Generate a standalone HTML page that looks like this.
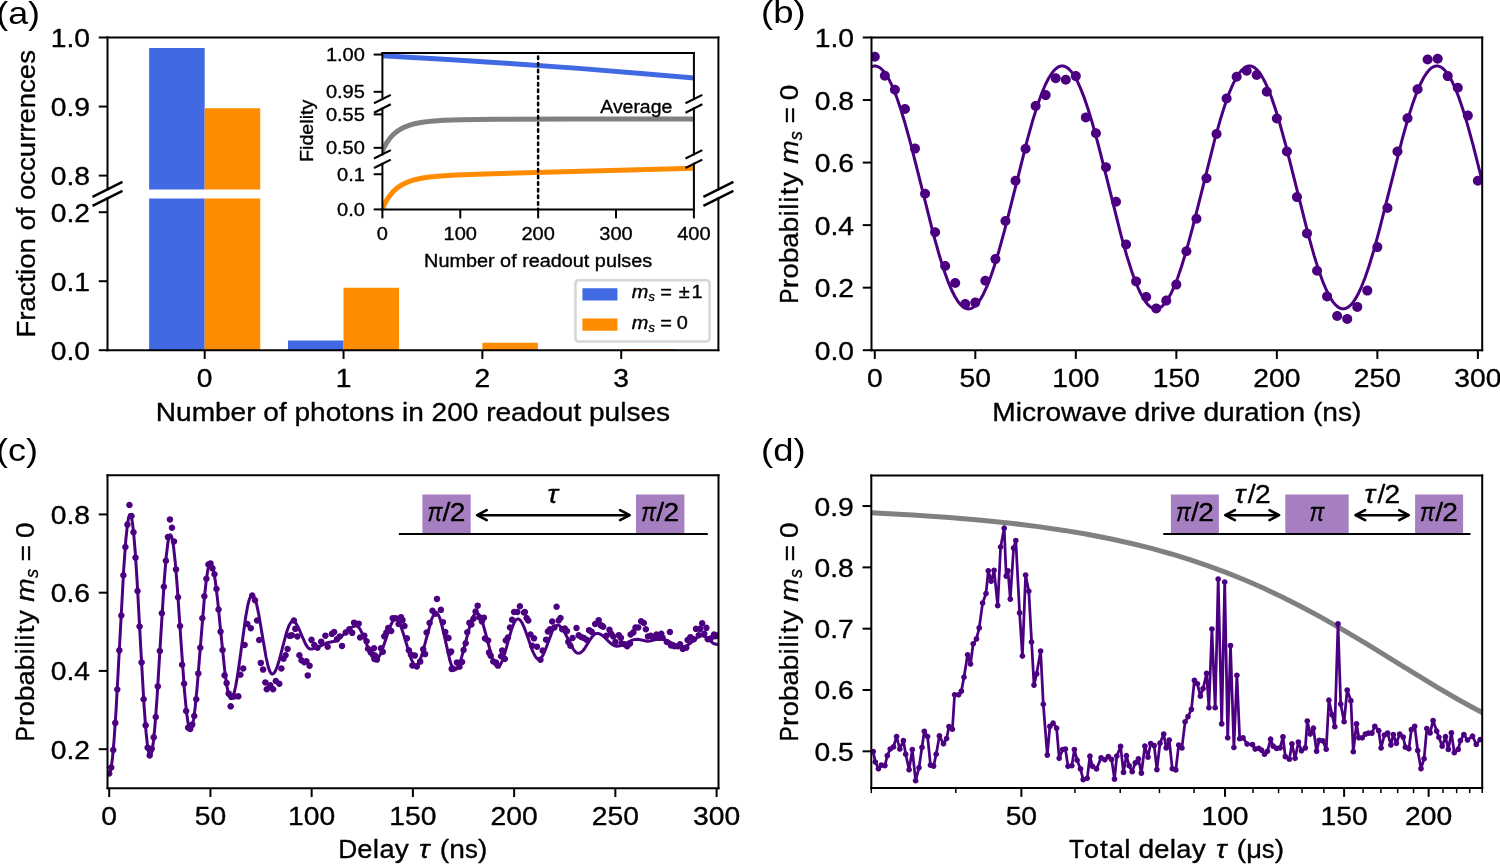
<!DOCTYPE html>
<html><head><meta charset="utf-8"><title>figure</title>
<style>html,body{margin:0;padding:0;background:#fff;width:1500px;height:864px;overflow:hidden}
svg text{stroke:#000;stroke-width:0.14px;stroke-linejoin:round}
svg{display:block;will-change:transform;font-family:"Liberation Sans",sans-serif}</style></head>
<body>
<svg width="1500" height="864" viewBox="0 0 600 345.6" version="1.1">
 
 <defs>
  <style type="text/css">*{stroke-linejoin: round; stroke-linecap: butt}</style>
 </defs>
 <g id="figure_1">
  <g id="patch_1">
   <path d="M 0 345.6 
L 600 345.6 
L 600 0 
L 0 0 
z
" style="fill: #ffffff"/>
  </g>
  <g id="axes_1">
   <g id="patch_2">
    <path d="M 43 75.76 
L 287.36 75.76 
L 287.36 15 
L 43 15 
z
" style="fill: #ffffff"/>
   </g>
   <g id="patch_3">
    <path d="M 59.660909 291.181818 
L 81.875455 291.181818 
L 81.875455 19.197964 
L 59.660909 19.197964 
z
" clip-path="url(#pc5ae53159c)" style="fill: #4169e1"/>
   </g>
   <g id="patch_4">
    <path d="M 115.197273 291.181818 
L 137.411818 291.181818 
L 137.411818 287.342891 
L 115.197273 287.342891 
z
" clip-path="url(#pc5ae53159c)" style="fill: #4169e1"/>
   </g>
   <g id="patch_5">
    <path d="M 170.733636 291.181818 
L 192.948182 291.181818 
L 192.948182 291.181818 
L 170.733636 291.181818 
z
" clip-path="url(#pc5ae53159c)" style="fill: #4169e1"/>
   </g>
   <g id="patch_6">
    <path d="M 226.27 291.181818 
L 248.484545 291.181818 
L 248.484545 291.181818 
L 226.27 291.181818 
z
" clip-path="url(#pc5ae53159c)" style="fill: #4169e1"/>
   </g>
   <g id="patch_7">
    <path d="M 81.875455 291.181818 
L 104.09 291.181818 
L 104.09 43.308636 
L 81.875455 43.308636 
z
" clip-path="url(#pc5ae53159c)" style="fill: #ff8c00"/>
   </g>
   <g id="patch_8">
    <path d="M 137.411818 291.181818 
L 159.626364 291.181818 
L 159.626364 266.159745 
L 137.411818 266.159745 
z
" clip-path="url(#pc5ae53159c)" style="fill: #ff8c00"/>
   </g>
   <g id="patch_9">
    <path d="M 192.948182 291.181818 
L 215.162727 291.181818 
L 215.162727 288.226673 
L 192.948182 288.226673 
z
" clip-path="url(#pc5ae53159c)" style="fill: #ff8c00"/>
   </g>
   <g id="patch_10">
    <path d="M 248.484545 291.181818 
L 270.699091 291.181818 
L 270.699091 290.739927 
L 248.484545 290.739927 
z
" clip-path="url(#pc5ae53159c)" style="fill: #ff8c00"/>
   </g>
   <g id="matplotlib.axis_1">
    <g id="xtick_1"/>
    <g id="xtick_2"/>
    <g id="xtick_3"/>
    <g id="xtick_4"/>
   </g>
   <g id="matplotlib.axis_2">
    <g id="ytick_1">
     <g id="line2d_1">
      <defs>
       <path id="m245f423433" d="M 0 0 
L -3.5 0 
" style="stroke: #000000; stroke-width: 0.8"/>
      </defs>
      <g>
       <use href="#m245f423433" x="43" y="70.236364" style="stroke: #000000; stroke-width: 0.8"/>
      </g>
     </g>
     <g id="text_1">
      <text style="font-size: 10.350px; font-family: 'Liberation Sans', sans-serif; text-anchor: end" x="36" y="74.035582" transform="rotate(-0 36 74.035582)" textLength="15.697" lengthAdjust="spacingAndGlyphs">0.8</text>
     </g>
    </g>
    <g id="ytick_2">
     <g id="line2d_2">
      <g>
       <use href="#m245f423433" x="43" y="42.618182" style="stroke: #000000; stroke-width: 0.8"/>
      </g>
     </g>
     <g id="text_2">
      <text style="font-size: 10.350px; font-family: 'Liberation Sans', sans-serif; text-anchor: end" x="36" y="46.417401" transform="rotate(-0 36 46.417401)" textLength="15.697" lengthAdjust="spacingAndGlyphs">0.9</text>
     </g>
    </g>
    <g id="ytick_3">
     <g id="line2d_3">
      <g>
       <use href="#m245f423433" x="43" y="15" style="stroke: #000000; stroke-width: 0.8"/>
      </g>
     </g>
     <g id="text_3">
      <text style="font-size: 10.350px; font-family: 'Liberation Sans', sans-serif; text-anchor: end" x="36" y="18.799219" transform="rotate(-0 36 18.799219)" textLength="15.697" lengthAdjust="spacingAndGlyphs">1.0</text>
     </g>
    </g>
   </g>
   <g id="patch_11">
    <path d="M 43 75.76 
L 43 15 
" style="fill: none; stroke: #000000; stroke-width: 0.8; stroke-linejoin: miter; stroke-linecap: square"/>
   </g>
   <g id="patch_12">
    <path d="M 287.36 75.76 
L 287.36 15 
" style="fill: none; stroke: #000000; stroke-width: 0.8; stroke-linejoin: miter; stroke-linecap: square"/>
   </g>
   <g id="patch_13">
    <path d="M 43 15 
L 287.36 15 
" style="fill: none; stroke: #000000; stroke-width: 0.8; stroke-linejoin: miter; stroke-linecap: square"/>
   </g>
  </g>
  <g id="axes_2">
   <g id="patch_14">
    <path d="M 43 140.08 
L 287.36 140.08 
L 287.36 79.36 
L 43 79.36 
z
" style="fill: #ffffff"/>
   </g>
   <g id="patch_15">
    <path d="M 59.660909 140.08 
L 81.875455 140.08 
L 81.875455 -131.7248 
L 59.660909 -131.7248 
z
" clip-path="url(#ped89a6a85b)" style="fill: #4169e1"/>
   </g>
   <g id="patch_16">
    <path d="M 115.197273 140.08 
L 137.411818 140.08 
L 137.411818 136.2436 
L 115.197273 136.2436 
z
" clip-path="url(#ped89a6a85b)" style="fill: #4169e1"/>
   </g>
   <g id="patch_17">
    <path d="M 170.733636 140.08 
L 192.948182 140.08 
L 192.948182 140.08 
L 170.733636 140.08 
z
" clip-path="url(#ped89a6a85b)" style="fill: #4169e1"/>
   </g>
   <g id="patch_18">
    <path d="M 226.27 140.08 
L 248.484545 140.08 
L 248.484545 140.08 
L 226.27 140.08 
z
" clip-path="url(#ped89a6a85b)" style="fill: #4169e1"/>
   </g>
   <g id="patch_19">
    <path d="M 81.875455 140.08 
L 104.09 140.08 
L 104.09 -107.63 
L 81.875455 -107.63 
z
" clip-path="url(#ped89a6a85b)" style="fill: #ff8c00"/>
   </g>
   <g id="patch_20">
    <path d="M 137.411818 140.08 
L 159.626364 140.08 
L 159.626364 115.0744 
L 137.411818 115.0744 
z
" clip-path="url(#ped89a6a85b)" style="fill: #ff8c00"/>
   </g>
   <g id="patch_21">
    <path d="M 192.948182 140.08 
L 215.162727 140.08 
L 215.162727 137.1268 
L 192.948182 137.1268 
z
" clip-path="url(#ped89a6a85b)" style="fill: #ff8c00"/>
   </g>
   <g id="patch_22">
    <path d="M 248.484545 140.08 
L 270.699091 140.08 
L 270.699091 139.6384 
L 248.484545 139.6384 
z
" clip-path="url(#ped89a6a85b)" style="fill: #ff8c00"/>
   </g>
   <g id="matplotlib.axis_3">
    <g id="xtick_5">
     <g id="line2d_4">
      <defs>
       <path id="m3040d6da13" d="M 0 0 
L 0 3.5 
" style="stroke: #000000; stroke-width: 0.8"/>
      </defs>
      <g>
       <use href="#m3040d6da13" x="81.875455" y="140.08" style="stroke: #000000; stroke-width: 0.8"/>
      </g>
     </g>
     <g id="text_4">
      <text style="font-size: 10.350px; font-family: 'Liberation Sans', sans-serif; text-anchor: middle" x="81.875455" y="154.678437" transform="rotate(-0 81.875455 154.678437)" textLength="6.280" lengthAdjust="spacingAndGlyphs">0</text>
     </g>
    </g>
    <g id="xtick_6">
     <g id="line2d_5">
      <g>
       <use href="#m3040d6da13" x="137.411818" y="140.08" style="stroke: #000000; stroke-width: 0.8"/>
      </g>
     </g>
     <g id="text_5">
      <text style="font-size: 10.350px; font-family: 'Liberation Sans', sans-serif; text-anchor: middle" x="137.411818" y="154.678437" transform="rotate(-0 137.411818 154.678437)" textLength="6.280" lengthAdjust="spacingAndGlyphs">1</text>
     </g>
    </g>
    <g id="xtick_7">
     <g id="line2d_6">
      <g>
       <use href="#m3040d6da13" x="192.948182" y="140.08" style="stroke: #000000; stroke-width: 0.8"/>
      </g>
     </g>
     <g id="text_6">
      <text style="font-size: 10.350px; font-family: 'Liberation Sans', sans-serif; text-anchor: middle" x="192.948182" y="154.678437" transform="rotate(-0 192.948182 154.678437)" textLength="6.280" lengthAdjust="spacingAndGlyphs">2</text>
     </g>
    </g>
    <g id="xtick_8">
     <g id="line2d_7">
      <g>
       <use href="#m3040d6da13" x="248.484545" y="140.08" style="stroke: #000000; stroke-width: 0.8"/>
      </g>
     </g>
     <g id="text_7">
      <text style="font-size: 10.350px; font-family: 'Liberation Sans', sans-serif; text-anchor: middle" x="248.484545" y="154.678437" transform="rotate(-0 248.484545 154.678437)" textLength="6.280" lengthAdjust="spacingAndGlyphs">3</text>
     </g>
    </g>
    <g id="text_8">
     <text style="font-size: 10.350px; font-family: 'Liberation Sans', sans-serif; text-anchor: middle" x="165.18" y="168.356562" transform="rotate(-0 165.18 168.356562)" textLength="205.669" lengthAdjust="spacingAndGlyphs">Number of photons in 200 readout pulses</text>
    </g>
   </g>
   <g id="matplotlib.axis_4">
    <g id="ytick_4">
     <g id="line2d_8">
      <g>
       <use href="#m245f423433" x="43" y="140.08" style="stroke: #000000; stroke-width: 0.8"/>
      </g>
     </g>
     <g id="text_9">
      <text style="font-size: 10.350px; font-family: 'Liberation Sans', sans-serif; text-anchor: end" x="36" y="143.879219" transform="rotate(-0 36 143.879219)" textLength="15.697" lengthAdjust="spacingAndGlyphs">0.0</text>
     </g>
    </g>
    <g id="ytick_5">
     <g id="line2d_9">
      <g>
       <use href="#m245f423433" x="43" y="112.48" style="stroke: #000000; stroke-width: 0.8"/>
      </g>
     </g>
     <g id="text_10">
      <text style="font-size: 10.350px; font-family: 'Liberation Sans', sans-serif; text-anchor: end" x="36" y="116.279219" transform="rotate(-0 36 116.279219)" textLength="15.697" lengthAdjust="spacingAndGlyphs">0.1</text>
     </g>
    </g>
    <g id="ytick_6">
     <g id="line2d_10">
      <g>
       <use href="#m245f423433" x="43" y="84.88" style="stroke: #000000; stroke-width: 0.8"/>
      </g>
     </g>
     <g id="text_11">
      <text style="font-size: 10.350px; font-family: 'Liberation Sans', sans-serif; text-anchor: end" x="36" y="88.679219" transform="rotate(-0 36 88.679219)" textLength="15.697" lengthAdjust="spacingAndGlyphs">0.2</text>
     </g>
    </g>
   </g>
   <g id="patch_23">
    <path d="M 43 140.08 
L 43 79.36 
" style="fill: none; stroke: #000000; stroke-width: 0.8; stroke-linejoin: miter; stroke-linecap: square"/>
   </g>
   <g id="patch_24">
    <path d="M 287.36 140.08 
L 287.36 79.36 
" style="fill: none; stroke: #000000; stroke-width: 0.8; stroke-linejoin: miter; stroke-linecap: square"/>
   </g>
   <g id="patch_25">
    <path d="M 43 140.08 
L 287.36 140.08 
" style="fill: none; stroke: #000000; stroke-width: 0.8; stroke-linejoin: miter; stroke-linecap: square"/>
   </g>
   <g id="legend_1">
    <g id="patch_26">
     <path d="M 231.57 136.58 
L 282.46 136.58 
Q 283.86 136.58 283.86 135.18 
L 283.86 113.489625 
Q 283.86 112.089625 282.46 112.089625 
L 231.57 112.089625 
Q 230.17 112.089625 230.17 113.489625 
L 230.17 135.18 
Q 230.17 136.58 231.57 136.58 
z
" style="fill: #ffffff; opacity: 0.8; stroke: #cccccc; stroke-linejoin: miter"/>
    </g>
    <g id="patch_27">
     <path d="M 232.97 120.208531 
L 246.97 120.208531 
L 246.97 115.308531 
L 232.97 115.308531 
z
" style="fill: #4169e1"/>
    </g>
    <g id="text_12">
     
     <g transform="translate(252.57 120.208531)">
      <text x="0.0878" y="-0.890625" style="font-style: italic; font-size: 7.245px; font-family: 'Liberation Sans', sans-serif" textLength="6.643" lengthAdjust="spacingAndGlyphs">m</text>
<text x="6.8188" y="0.257812" style="font-style: italic; font-size: 5.072px; font-family: 'Liberation Sans', sans-serif" textLength="2.540" lengthAdjust="spacingAndGlyphs">s</text>
<text x="11.5309" y="-0.890625" style="font-size: 7.245px; font-family: 'Liberation Sans', sans-serif" textLength="4.657" lengthAdjust="spacingAndGlyphs">=</text>
<text x="18.9001" y="-0.890625" style="font-size: 7.245px; font-family: 'Liberation Sans', sans-serif" textLength="4.377" lengthAdjust="spacingAndGlyphs">±</text>
<text x="24.0303" y="-0.890625" style="font-size: 7.245px; font-family: 'Liberation Sans', sans-serif" textLength="4.435" lengthAdjust="spacingAndGlyphs">1</text>
     </g>
    </g>
    <g id="patch_28">
     <path d="M 232.97 132.324219 
L 246.97 132.324219 
L 246.97 127.424219 
L 232.97 127.424219 
z
" style="fill: #ff8c00"/>
    </g>
    <g id="text_13">
     
     <g transform="translate(252.57 132.324219)">
      <text x="0.0878" y="-0.796875" style="font-style: italic; font-size: 7.245px; font-family: 'Liberation Sans', sans-serif" textLength="6.643" lengthAdjust="spacingAndGlyphs">m</text>
<text x="6.8188" y="0.351562" style="font-style: italic; font-size: 5.072px; font-family: 'Liberation Sans', sans-serif" textLength="2.540" lengthAdjust="spacingAndGlyphs">s</text>
<text x="11.5309" y="-0.796875" style="font-size: 7.245px; font-family: 'Liberation Sans', sans-serif" textLength="4.657" lengthAdjust="spacingAndGlyphs">=</text>
<text x="18.1651" y="-0.796875" style="font-size: 7.245px; font-family: 'Liberation Sans', sans-serif" textLength="4.435" lengthAdjust="spacingAndGlyphs">0</text>
     </g>
    </g>
   </g>
  </g>
  <g id="axes_3">
   <g id="patch_29">
    <path d="M 152.96 39.64 
L 277.56 39.64 
L 277.56 21.2 
L 152.96 21.2 
z
" style="fill: #ffffff"/>
   </g>
   <g id="matplotlib.axis_5">
    <g id="xtick_9"/>
    <g id="xtick_10"/>
    <g id="xtick_11"/>
    <g id="xtick_12"/>
    <g id="xtick_13"/>
   </g>
   <g id="matplotlib.axis_6">
    <g id="ytick_7">
     <g id="line2d_11">
      <g>
       <use href="#m245f423433" x="152.96" y="36.720582" style="stroke: #000000; stroke-width: 0.8"/>
      </g>
     </g>
     <g id="text_14">
      <text style="font-size: 7.245px; font-family: 'Liberation Sans', sans-serif; text-anchor: end" x="145.96" y="39.380035" transform="rotate(-0 145.96 39.380035)" textLength="15.586" lengthAdjust="spacingAndGlyphs">0.95</text>
     </g>
    </g>
    <g id="ytick_8">
     <g id="line2d_12">
      <g>
       <use href="#m245f423433" x="152.96" y="21.82559" style="stroke: #000000; stroke-width: 0.8"/>
      </g>
     </g>
     <g id="text_15">
      <text style="font-size: 7.245px; font-family: 'Liberation Sans', sans-serif; text-anchor: end" x="145.96" y="24.485043" transform="rotate(-0 145.96 24.485043)" textLength="15.586" lengthAdjust="spacingAndGlyphs">1.00</text>
     </g>
    </g>
   </g>
   <g id="line2d_13">
    <path d="M 152.96 22.332019 
L 179.126 23.782186 
L 205.292 25.455163 
L 231.458 27.35095 
L 257.624 29.469547 
L 277.56 31.233267 
L 277.56 31.233267 
" clip-path="url(#p95d39f3d8a)" style="fill: none; stroke: #4169e1; stroke-width: 2; stroke-linecap: square"/>
   </g>
   <g id="patch_30">
    <path d="M 152.96 39.64 
L 152.96 21.2 
" style="fill: none; stroke: #000000; stroke-width: 0.8; stroke-linejoin: miter; stroke-linecap: square"/>
   </g>
   <g id="patch_31">
    <path d="M 277.56 39.64 
L 277.56 21.2 
" style="fill: none; stroke: #000000; stroke-width: 0.8; stroke-linejoin: miter; stroke-linecap: square"/>
   </g>
   <g id="patch_32">
    <path d="M 152.96 21.2 
L 277.56 21.2 
" style="fill: none; stroke: #000000; stroke-width: 0.8; stroke-linejoin: miter; stroke-linecap: square"/>
   </g>
  </g>
  <g id="axes_4">
   <g id="patch_33">
    <path d="M 152.96 61.72 
L 277.56 61.72 
L 277.56 43.4 
L 152.96 43.4 
z
" style="fill: #ffffff"/>
   </g>
   <g id="matplotlib.axis_7">
    <g id="xtick_14"/>
    <g id="xtick_15"/>
    <g id="xtick_16"/>
    <g id="xtick_17"/>
    <g id="xtick_18"/>
   </g>
   <g id="matplotlib.axis_8">
    <g id="ytick_9">
     <g id="line2d_14">
      <g>
       <use href="#m245f423433" x="152.96" y="59.125781" style="stroke: #000000; stroke-width: 0.8"/>
      </g>
     </g>
     <g id="text_16">
      <text style="font-size: 7.245px; font-family: 'Liberation Sans', sans-serif; text-anchor: end" x="145.96" y="61.785234" transform="rotate(-0 145.96 61.785234)" textLength="15.586" lengthAdjust="spacingAndGlyphs">0.50</text>
     </g>
    </g>
    <g id="ytick_10">
     <g id="line2d_15">
      <g>
       <use href="#m245f423433" x="152.96" y="45.753518" style="stroke: #000000; stroke-width: 0.8"/>
      </g>
     </g>
     <g id="text_17">
      <text style="font-size: 7.245px; font-family: 'Liberation Sans', sans-serif; text-anchor: end" x="145.96" y="48.412971" transform="rotate(-0 145.96 48.412971)" textLength="15.586" lengthAdjust="spacingAndGlyphs">0.55</text>
     </g>
    </g>
   </g>
   <g id="line2d_16">
    <path d="M 152.96 60.583358 
L 153.583 59.080267 
L 154.67325 57.096742 
L 155.91925 55.345604 
L 157.16525 53.970034 
L 158.567 52.750586 
L 160.1245 51.699338 
L 161.83775 50.816541 
L 163.8625 50.041819 
L 166.19875 49.403101 
L 169.00225 48.879887 
L 172.5845 48.454803 
L 177.41275 48.126745 
L 184.57725 47.885627 
L 197.66025 47.703739 
L 226.94125 47.55763 
L 265.723 47.577362 
L 277.56 47.62724 
L 277.56 47.62724 
" clip-path="url(#p97b28c5c1a)" style="fill: none; stroke: #808080; stroke-width: 2; stroke-linecap: square"/>
   </g>
   <g id="patch_34">
    <path d="M 152.96 61.72 
L 152.96 43.4 
" style="fill: none; stroke: #000000; stroke-width: 0.8; stroke-linejoin: miter; stroke-linecap: square"/>
   </g>
   <g id="patch_35">
    <path d="M 277.56 61.72 
L 277.56 43.4 
" style="fill: none; stroke: #000000; stroke-width: 0.8; stroke-linejoin: miter; stroke-linecap: square"/>
   </g>
  </g>
  <g id="axes_5">
   <g id="patch_36">
    <path d="M 152.96 83.84 
L 277.56 83.84 
L 277.56 65.52 
L 152.96 65.52 
z
" style="fill: #ffffff"/>
   </g>
   <g id="matplotlib.axis_9">
    <g id="xtick_19">
     <g id="line2d_17">
      <g>
       <use href="#m3040d6da13" x="152.96" y="83.84" style="stroke: #000000; stroke-width: 0.8"/>
      </g>
     </g>
     <g id="text_18">
      <text style="font-size: 7.245px; font-family: 'Liberation Sans', sans-serif; text-anchor: middle" x="152.96" y="96.158906" transform="rotate(-0 152.96 96.158906)" textLength="4.454" lengthAdjust="spacingAndGlyphs">0</text>
     </g>
    </g>
    <g id="xtick_20">
     <g id="line2d_18">
      <g>
       <use href="#m3040d6da13" x="184.11" y="83.84" style="stroke: #000000; stroke-width: 0.8"/>
      </g>
     </g>
     <g id="text_19">
      <text style="font-size: 7.245px; font-family: 'Liberation Sans', sans-serif; text-anchor: middle" x="184.11" y="96.158906" transform="rotate(-0 184.11 96.158906)" textLength="13.361" lengthAdjust="spacingAndGlyphs">100</text>
     </g>
    </g>
    <g id="xtick_21">
     <g id="line2d_19">
      <g>
       <use href="#m3040d6da13" x="215.26" y="83.84" style="stroke: #000000; stroke-width: 0.8"/>
      </g>
     </g>
     <g id="text_20">
      <text style="font-size: 7.245px; font-family: 'Liberation Sans', sans-serif; text-anchor: middle" x="215.26" y="96.158906" transform="rotate(-0 215.26 96.158906)" textLength="13.361" lengthAdjust="spacingAndGlyphs">200</text>
     </g>
    </g>
    <g id="xtick_22">
     <g id="line2d_20">
      <g>
       <use href="#m3040d6da13" x="246.41" y="83.84" style="stroke: #000000; stroke-width: 0.8"/>
      </g>
     </g>
     <g id="text_21">
      <text style="font-size: 7.245px; font-family: 'Liberation Sans', sans-serif; text-anchor: middle" x="246.41" y="96.158906" transform="rotate(-0 246.41 96.158906)" textLength="13.361" lengthAdjust="spacingAndGlyphs">300</text>
     </g>
    </g>
    <g id="xtick_23">
     <g id="line2d_21">
      <g>
       <use href="#m3040d6da13" x="277.56" y="83.84" style="stroke: #000000; stroke-width: 0.8"/>
      </g>
     </g>
     <g id="text_22">
      <text style="font-size: 7.245px; font-family: 'Liberation Sans', sans-serif; text-anchor: middle" x="277.56" y="96.158906" transform="rotate(-0 277.56 96.158906)" textLength="13.361" lengthAdjust="spacingAndGlyphs">400</text>
     </g>
    </g>
    <g id="text_23">
     <text style="font-size: 7.245px; font-family: 'Liberation Sans', sans-serif; text-anchor: middle" x="215.26" y="106.933594" transform="rotate(-0 215.26 106.933594)" textLength="91.224" lengthAdjust="spacingAndGlyphs">Number of readout pulses</text>
    </g>
   </g>
   <g id="matplotlib.axis_10">
    <g id="ytick_11">
     <g id="line2d_22">
      <g>
       <use href="#m245f423433" x="152.96" y="83.769593" style="stroke: #000000; stroke-width: 0.8"/>
      </g>
     </g>
     <g id="text_24">
      <text style="font-size: 7.245px; font-family: 'Liberation Sans', sans-serif; text-anchor: end" x="145.96" y="86.429046" transform="rotate(-0 145.96 86.429046)" textLength="11.132" lengthAdjust="spacingAndGlyphs">0.0</text>
     </g>
    </g>
    <g id="ytick_12">
     <g id="line2d_23">
      <g>
       <use href="#m245f423433" x="152.96" y="69.688117" style="stroke: #000000; stroke-width: 0.8"/>
      </g>
     </g>
     <g id="text_25">
      <text style="font-size: 7.245px; font-family: 'Liberation Sans', sans-serif; text-anchor: end" x="145.96" y="72.34757" transform="rotate(-0 145.96 72.34757)" textLength="11.132" lengthAdjust="spacingAndGlyphs">0.1</text>
     </g>
    </g>
   </g>
   <g id="line2d_24">
    <path d="M 152.96 83.769593 
L 153.583 82.178558 
L 154.67325 80.075298 
L 155.91925 78.214447 
L 157.16525 76.748845 
L 158.567 75.445224 
L 160.1245 74.316203 
L 161.83775 73.361935 
L 163.70675 72.572701 
L 165.88725 71.89 
L 168.535 71.298785 
L 171.80575 70.80189 
L 176.16675 70.375496 
L 182.5525 69.994931 
L 193.7665 69.582213 
L 228.966 68.604163 
L 277.56 67.29314 
L 277.56 67.29314 
" clip-path="url(#pf60e66ae4b)" style="fill: none; stroke: #ff8c00; stroke-width: 2; stroke-linecap: square"/>
   </g>
   <g id="patch_37">
    <path d="M 152.96 83.84 
L 152.96 65.52 
" style="fill: none; stroke: #000000; stroke-width: 0.8; stroke-linejoin: miter; stroke-linecap: square"/>
   </g>
   <g id="patch_38">
    <path d="M 277.56 83.84 
L 277.56 65.52 
" style="fill: none; stroke: #000000; stroke-width: 0.8; stroke-linejoin: miter; stroke-linecap: square"/>
   </g>
   <g id="patch_39">
    <path d="M 152.96 83.84 
L 277.56 83.84 
" style="fill: none; stroke: #000000; stroke-width: 0.8; stroke-linejoin: miter; stroke-linecap: square"/>
   </g>
  </g>
  <g id="axes_6">
   <g id="patch_40">
    <path d="M 348.6 140.08 
L 592.88 140.08 
L 592.88 15 
L 348.6 15 
z
" style="fill: #ffffff"/>
   </g>
   <g id="matplotlib.axis_11">
    <g id="xtick_24">
     <g id="line2d_25">
      <g>
       <use href="#m3040d6da13" x="349.918737" y="140.08" style="stroke: #000000; stroke-width: 0.8"/>
      </g>
     </g>
     <g id="text_26">
      <text style="font-size: 10.350px; font-family: 'Liberation Sans', sans-serif; text-anchor: middle" x="349.918737" y="154.678437" transform="rotate(-0 349.918737 154.678437)" textLength="6.280" lengthAdjust="spacingAndGlyphs">0</text>
     </g>
    </g>
    <g id="xtick_25">
     <g id="line2d_26">
      <g>
       <use href="#m3040d6da13" x="390.124142" y="140.08" style="stroke: #000000; stroke-width: 0.8"/>
      </g>
     </g>
     <g id="text_27">
      <text style="font-size: 10.350px; font-family: 'Liberation Sans', sans-serif; text-anchor: middle" x="390.124142" y="154.678437" transform="rotate(-0 390.124142 154.678437)" textLength="12.559" lengthAdjust="spacingAndGlyphs">50</text>
     </g>
    </g>
    <g id="xtick_26">
     <g id="line2d_27">
      <g>
       <use href="#m3040d6da13" x="430.329547" y="140.08" style="stroke: #000000; stroke-width: 0.8"/>
      </g>
     </g>
     <g id="text_28">
      <text style="font-size: 10.350px; font-family: 'Liberation Sans', sans-serif; text-anchor: middle" x="430.329547" y="154.678437" transform="rotate(-0 430.329547 154.678437)" textLength="18.839" lengthAdjust="spacingAndGlyphs">100</text>
     </g>
    </g>
    <g id="xtick_27">
     <g id="line2d_28">
      <g>
       <use href="#m3040d6da13" x="470.534952" y="140.08" style="stroke: #000000; stroke-width: 0.8"/>
      </g>
     </g>
     <g id="text_29">
      <text style="font-size: 10.350px; font-family: 'Liberation Sans', sans-serif; text-anchor: middle" x="470.534952" y="154.678437" transform="rotate(-0 470.534952 154.678437)" textLength="18.839" lengthAdjust="spacingAndGlyphs">150</text>
     </g>
    </g>
    <g id="xtick_28">
     <g id="line2d_29">
      <g>
       <use href="#m3040d6da13" x="510.740357" y="140.08" style="stroke: #000000; stroke-width: 0.8"/>
      </g>
     </g>
     <g id="text_30">
      <text style="font-size: 10.350px; font-family: 'Liberation Sans', sans-serif; text-anchor: middle" x="510.740357" y="154.678437" transform="rotate(-0 510.740357 154.678437)" textLength="18.839" lengthAdjust="spacingAndGlyphs">200</text>
     </g>
    </g>
    <g id="xtick_29">
     <g id="line2d_30">
      <g>
       <use href="#m3040d6da13" x="550.945763" y="140.08" style="stroke: #000000; stroke-width: 0.8"/>
      </g>
     </g>
     <g id="text_31">
      <text style="font-size: 10.350px; font-family: 'Liberation Sans', sans-serif; text-anchor: middle" x="550.945763" y="154.678437" transform="rotate(-0 550.945763 154.678437)" textLength="18.839" lengthAdjust="spacingAndGlyphs">250</text>
     </g>
    </g>
    <g id="xtick_30">
     <g id="line2d_31">
      <g>
       <use href="#m3040d6da13" x="591.151168" y="140.08" style="stroke: #000000; stroke-width: 0.8"/>
      </g>
     </g>
     <g id="text_32">
      <text style="font-size: 10.350px; font-family: 'Liberation Sans', sans-serif; text-anchor: middle" x="591.151168" y="154.678437" transform="rotate(-0 591.151168 154.678437)" textLength="18.839" lengthAdjust="spacingAndGlyphs">300</text>
     </g>
    </g>
    <g id="text_33">
     <text style="font-size: 10.350px; font-family: 'Liberation Sans', sans-serif; text-anchor: middle" x="470.74" y="168.356562" transform="rotate(-0 470.74 168.356562)" textLength="147.591" lengthAdjust="spacingAndGlyphs">Microwave drive duration (ns)</text>
    </g>
   </g>
   <g id="matplotlib.axis_12">
    <g id="ytick_13">
     <g id="line2d_32">
      <g>
       <use href="#m245f423433" x="348.6" y="140.08" style="stroke: #000000; stroke-width: 0.8"/>
      </g>
     </g>
     <g id="text_34">
      <text style="font-size: 10.350px; font-family: 'Liberation Sans', sans-serif; text-anchor: end" x="341.6" y="143.879219" transform="rotate(-0 341.6 143.879219)" textLength="15.697" lengthAdjust="spacingAndGlyphs">0.0</text>
     </g>
    </g>
    <g id="ytick_14">
     <g id="line2d_33">
      <g>
       <use href="#m245f423433" x="348.6" y="115.064" style="stroke: #000000; stroke-width: 0.8"/>
      </g>
     </g>
     <g id="text_35">
      <text style="font-size: 10.350px; font-family: 'Liberation Sans', sans-serif; text-anchor: end" x="341.6" y="118.863219" transform="rotate(-0 341.6 118.863219)" textLength="15.697" lengthAdjust="spacingAndGlyphs">0.2</text>
     </g>
    </g>
    <g id="ytick_15">
     <g id="line2d_34">
      <g>
       <use href="#m245f423433" x="348.6" y="90.048" style="stroke: #000000; stroke-width: 0.8"/>
      </g>
     </g>
     <g id="text_36">
      <text style="font-size: 10.350px; font-family: 'Liberation Sans', sans-serif; text-anchor: end" x="341.6" y="93.847219" transform="rotate(-0 341.6 93.847219)" textLength="15.697" lengthAdjust="spacingAndGlyphs">0.4</text>
     </g>
    </g>
    <g id="ytick_16">
     <g id="line2d_35">
      <g>
       <use href="#m245f423433" x="348.6" y="65.032" style="stroke: #000000; stroke-width: 0.8"/>
      </g>
     </g>
     <g id="text_37">
      <text style="font-size: 10.350px; font-family: 'Liberation Sans', sans-serif; text-anchor: end" x="341.6" y="68.831219" transform="rotate(-0 341.6 68.831219)" textLength="15.697" lengthAdjust="spacingAndGlyphs">0.6</text>
     </g>
    </g>
    <g id="ytick_17">
     <g id="line2d_36">
      <g>
       <use href="#m245f423433" x="348.6" y="40.016" style="stroke: #000000; stroke-width: 0.8"/>
      </g>
     </g>
     <g id="text_38">
      <text style="font-size: 10.350px; font-family: 'Liberation Sans', sans-serif; text-anchor: end" x="341.6" y="43.815219" transform="rotate(-0 341.6 43.815219)" textLength="15.697" lengthAdjust="spacingAndGlyphs">0.8</text>
     </g>
    </g>
    <g id="ytick_18">
     <g id="line2d_37">
      <g>
       <use href="#m245f423433" x="348.6" y="15" style="stroke: #000000; stroke-width: 0.8"/>
      </g>
     </g>
     <g id="text_39">
      <text style="font-size: 10.350px; font-family: 'Liberation Sans', sans-serif; text-anchor: end" x="341.6" y="18.799219" transform="rotate(-0 341.6 18.799219)" textLength="15.697" lengthAdjust="spacingAndGlyphs">1.0</text>
     </g>
    </g>
    <g id="text_40">
     
     <g transform="translate(319.596875 121.94) rotate(-90)">
      <text x="0.5767" y="-0.40625" style="font-size: 10.350px; font-family: 'Liberation Sans', sans-serif" textLength="5.952" lengthAdjust="spacingAndGlyphs">P</text>
<text x="6.6820" y="-0.40625" style="font-size: 10.350px; font-family: 'Liberation Sans', sans-serif" textLength="3.751" lengthAdjust="spacingAndGlyphs">r</text>
<text x="10.5865" y="-0.40625" style="font-size: 10.350px; font-family: 'Liberation Sans', sans-serif" textLength="6.039" lengthAdjust="spacingAndGlyphs">o</text>
<text x="16.6254" y="-0.40625" style="font-size: 10.350px; font-family: 'Liberation Sans', sans-serif" textLength="6.265" lengthAdjust="spacingAndGlyphs">b</text>
<text x="22.8903" y="-0.40625" style="font-size: 10.350px; font-family: 'Liberation Sans', sans-serif" textLength="6.048" lengthAdjust="spacingAndGlyphs">a</text>
<text x="28.9388" y="-0.40625" style="font-size: 10.350px; font-family: 'Liberation Sans', sans-serif" textLength="6.265" lengthAdjust="spacingAndGlyphs">b</text>
<text x="35.3235" y="-0.40625" style="font-size: 10.350px; font-family: 'Liberation Sans', sans-serif" textLength="2.503" lengthAdjust="spacingAndGlyphs">i</text>
<text x="38.0657" y="-0.40625" style="font-size: 10.350px; font-family: 'Liberation Sans', sans-serif" textLength="2.503" lengthAdjust="spacingAndGlyphs">l</text>
<text x="40.8079" y="-0.40625" style="font-size: 10.350px; font-family: 'Liberation Sans', sans-serif" textLength="2.503" lengthAdjust="spacingAndGlyphs">i</text>
<text x="43.8005" y="-0.40625" style="font-size: 10.350px; font-family: 'Liberation Sans', sans-serif" textLength="3.130" lengthAdjust="spacingAndGlyphs">t</text>
<text x="47.4047" y="-0.40625" style="font-size: 10.350px; font-family: 'Liberation Sans', sans-serif" textLength="5.632" lengthAdjust="spacingAndGlyphs">y</text>
<text x="72.5315" y="-0.40625" style="font-size: 10.350px; font-family: 'Liberation Sans', sans-serif" textLength="6.578" lengthAdjust="spacingAndGlyphs">=</text>
<text x="81.8860" y="-0.40625" style="font-size: 10.350px; font-family: 'Liberation Sans', sans-serif" textLength="6.265" lengthAdjust="spacingAndGlyphs">0</text>
<text x="56.3943" y="-0.40625" style="font-style: italic; font-size: 10.350px; font-family: 'Liberation Sans', sans-serif" textLength="9.383" lengthAdjust="spacingAndGlyphs">m</text>
<text x="65.8932" y="1.234375" style="font-style: italic; font-size: 7.245px; font-family: 'Liberation Sans', sans-serif" textLength="3.600" lengthAdjust="spacingAndGlyphs">s</text>
     </g>
    </g>
   </g>
   <g id="line2d_38">
    <path d="M 348.6 26.678983 
L 349.414946 26.42562 
L 350.229892 26.398814 
L 351.044837 26.598691 
L 351.859783 27.024318 
L 352.674729 27.673709 
L 353.693411 28.795401 
L 354.712093 30.253737 
L 355.934512 32.432974 
L 357.156931 35.058674 
L 358.583086 38.649261 
L 360.212977 43.384632 
L 362.046606 49.411113 
L 364.287706 57.580186 
L 367.343753 69.646706 
L 373.455847 94.013026 
L 375.900684 102.714729 
L 377.734312 108.497093 
L 379.364204 112.977051 
L 380.790359 116.318363 
L 382.012777 118.714055 
L 383.235196 120.650741 
L 384.253878 121.899202 
L 385.27256 122.805603 
L 386.087506 123.279916 
L 386.902452 123.528821 
L 387.717398 123.551154 
L 388.532344 123.346814 
L 389.347289 122.916752 
L 390.162235 122.262976 
L 391.180917 121.135903 
L 392.1996 119.672336 
L 393.422018 117.487072 
L 394.644437 114.855677 
L 396.070592 111.258944 
L 397.700484 106.517317 
L 399.534112 100.484911 
L 401.775213 92.310392 
L 404.831259 80.239939 
L 410.943353 55.878479 
L 413.184454 47.868161 
L 415.221818 41.407262 
L 416.85171 36.933903 
L 418.277865 33.598992 
L 419.500284 31.20918 
L 420.722702 29.278674 
L 421.741384 28.035545 
L 422.760067 27.134599 
L 423.575013 26.664712 
L 424.389958 26.420267 
L 425.204904 26.402405 
L 426.01985 26.61121 
L 426.834796 27.045705 
L 427.649741 27.703865 
L 428.668424 28.836316 
L 429.687106 30.305112 
L 430.909525 32.4964 
L 432.131943 35.133486 
L 433.558098 38.736356 
L 435.18799 43.484232 
L 437.021618 49.522552 
L 439.262719 57.702502 
L 442.318766 69.776866 
L 448.430859 94.133421 
L 450.67196 102.137867 
L 452.709324 108.591761 
L 454.339216 113.058515 
L 455.765371 116.387019 
L 456.98779 118.770946 
L 458.210209 120.695268 
L 459.228891 121.933064 
L 460.247573 122.828553 
L 461.062519 123.294012 
L 461.877465 123.533997 
L 462.69241 123.547387 
L 463.507356 123.334119 
L 464.322302 122.89519 
L 465.137248 122.232648 
L 466.15593 121.094821 
L 467.174612 119.620799 
L 468.397031 117.423491 
L 469.61945 114.78072 
L 471.045605 111.171718 
L 472.675496 106.417602 
L 474.509124 100.373379 
L 476.750225 92.188013 
L 479.806272 80.10976 
L 485.918365 55.758153 
L 488.159466 47.759595 
L 489.993094 41.916202 
L 491.622986 37.372807 
L 493.049141 33.969854 
L 494.475296 31.152448 
L 495.697715 29.234313 
L 496.716397 28.001853 
L 497.735079 27.111822 
L 498.550025 26.650791 
L 499.364971 26.415267 
L 500.179917 26.40635 
L 500.994862 26.624079 
L 501.809808 27.067441 
L 502.624754 27.734365 
L 503.643436 28.877566 
L 504.662118 30.356811 
L 505.884537 32.560135 
L 507.106956 35.208587 
L 508.533111 38.823714 
L 510.163003 43.584062 
L 511.996631 49.634177 
L 514.237731 57.824944 
L 517.293778 69.907063 
L 523.405872 94.253677 
L 525.646972 102.246335 
L 527.480601 108.083467 
L 529.110492 112.620344 
L 530.536647 116.016956 
L 531.962802 118.827518 
L 533.185221 120.739463 
L 534.203903 121.966585 
L 535.222585 122.851155 
L 536.037531 123.307757 
L 536.852477 123.53882 
L 537.667423 123.543266 
L 538.482369 123.321074 
L 539.297314 122.873281 
L 540.11226 122.201977 
L 541.130942 121.053404 
L 542.149625 119.568938 
L 543.372043 117.359603 
L 544.594462 114.705474 
L 546.020617 111.084228 
L 547.650509 106.317658 
L 549.484137 100.261662 
L 551.725238 92.065509 
L 554.781284 79.979544 
L 560.893378 55.637967 
L 563.134479 47.651226 
L 564.968107 41.820363 
L 566.597998 37.290013 
L 568.024153 33.899749 
L 569.450309 31.096035 
L 570.672727 29.190284 
L 571.69141 27.968503 
L 572.710092 27.089394 
L 573.525038 26.637222 
L 574.339983 26.41062 
L 575.154929 26.410646 
L 575.969875 26.6373 
L 576.784821 27.089524 
L 577.599766 27.765207 
L 578.618449 28.91915 
L 579.637131 30.408834 
L 580.85955 32.624177 
L 582.081968 35.283977 
L 583.508123 38.911335 
L 585.138015 43.684119 
L 586.971643 49.745985 
L 589.212744 57.94751 
L 592.472527 70.863717 
L 592.88 72.519913 
L 592.88 72.519913 
" clip-path="url(#p07e15613e6)" style="fill: none; stroke: #4b0082; stroke-width: 1.2; stroke-linecap: square"/>
   </g>
   <g id="line2d_39">
    <defs>
     <path id="m07d145b373" d="M 0 2 
C 0.530406 2 1.03916 1.789267 1.414214 1.414214 
C 1.789267 1.03916 2 0.530406 2 0 
C 2 -0.530406 1.789267 -1.03916 1.414214 -1.414214 
C 1.03916 -1.789267 0.530406 -2 0 -2 
C -0.530406 -2 -1.03916 -1.789267 -1.414214 -1.414214 
C -1.789267 -1.03916 -2 -0.530406 -2 0 
C -2 0.530406 -1.789267 1.03916 -1.414214 1.414214 
C -1.03916 1.789267 -0.530406 2 0 2 
z
"/>
    </defs>
    <g clip-path="url(#p07e15613e6)">
     <use href="#m07d145b373" x="349.918737" y="22.68" style="fill: #4b0082"/>
     <use href="#m07d145b373" x="353.939278" y="30.28" style="fill: #4b0082"/>
     <use href="#m07d145b373" x="357.959818" y="35.92" style="fill: #4b0082"/>
     <use href="#m07d145b373" x="361.980359" y="43.6" style="fill: #4b0082"/>
     <use href="#m07d145b373" x="366.000899" y="59.44" style="fill: #4b0082"/>
     <use href="#m07d145b373" x="370.02144" y="77.52" style="fill: #4b0082"/>
     <use href="#m07d145b373" x="374.04198" y="92.88" style="fill: #4b0082"/>
     <use href="#m07d145b373" x="378.062521" y="106.4" style="fill: #4b0082"/>
     <use href="#m07d145b373" x="382.083061" y="113.2" style="fill: #4b0082"/>
     <use href="#m07d145b373" x="386.103602" y="121.6" style="fill: #4b0082"/>
     <use href="#m07d145b373" x="390.124142" y="121.04" style="fill: #4b0082"/>
     <use href="#m07d145b373" x="394.144683" y="112.32" style="fill: #4b0082"/>
     <use href="#m07d145b373" x="398.165223" y="103.64" style="fill: #4b0082"/>
     <use href="#m07d145b373" x="402.185764" y="88.4" style="fill: #4b0082"/>
     <use href="#m07d145b373" x="406.206304" y="72.32" style="fill: #4b0082"/>
     <use href="#m07d145b373" x="410.226845" y="59.52" style="fill: #4b0082"/>
     <use href="#m07d145b373" x="414.247385" y="42.4" style="fill: #4b0082"/>
     <use href="#m07d145b373" x="418.267926" y="38.04" style="fill: #4b0082"/>
     <use href="#m07d145b373" x="422.288466" y="31.28" style="fill: #4b0082"/>
     <use href="#m07d145b373" x="426.309007" y="31.88" style="fill: #4b0082"/>
     <use href="#m07d145b373" x="430.329547" y="30.44" style="fill: #4b0082"/>
     <use href="#m07d145b373" x="434.350088" y="46.96" style="fill: #4b0082"/>
     <use href="#m07d145b373" x="438.370628" y="53.32" style="fill: #4b0082"/>
     <use href="#m07d145b373" x="442.391169" y="66.92" style="fill: #4b0082"/>
     <use href="#m07d145b373" x="446.411709" y="80.68" style="fill: #4b0082"/>
     <use href="#m07d145b373" x="450.43225" y="97.8" style="fill: #4b0082"/>
     <use href="#m07d145b373" x="454.45279" y="112.56" style="fill: #4b0082"/>
     <use href="#m07d145b373" x="458.473331" y="118.8" style="fill: #4b0082"/>
     <use href="#m07d145b373" x="462.493871" y="123.4" style="fill: #4b0082"/>
     <use href="#m07d145b373" x="466.514412" y="120.24" style="fill: #4b0082"/>
     <use href="#m07d145b373" x="470.534952" y="113.84" style="fill: #4b0082"/>
     <use href="#m07d145b373" x="474.555493" y="100.52" style="fill: #4b0082"/>
     <use href="#m07d145b373" x="478.576033" y="87.52" style="fill: #4b0082"/>
     <use href="#m07d145b373" x="482.596574" y="71.28" style="fill: #4b0082"/>
     <use href="#m07d145b373" x="486.617114" y="53.6" style="fill: #4b0082"/>
     <use href="#m07d145b373" x="490.637655" y="39.4" style="fill: #4b0082"/>
     <use href="#m07d145b373" x="494.658195" y="30.72" style="fill: #4b0082"/>
     <use href="#m07d145b373" x="498.678736" y="28.28" style="fill: #4b0082"/>
     <use href="#m07d145b373" x="502.699276" y="30" style="fill: #4b0082"/>
     <use href="#m07d145b373" x="506.719817" y="36.68" style="fill: #4b0082"/>
     <use href="#m07d145b373" x="510.740357" y="47.4" style="fill: #4b0082"/>
     <use href="#m07d145b373" x="514.760898" y="60.6" style="fill: #4b0082"/>
     <use href="#m07d145b373" x="518.781438" y="78.84" style="fill: #4b0082"/>
     <use href="#m07d145b373" x="522.801979" y="93.36" style="fill: #4b0082"/>
     <use href="#m07d145b373" x="526.82252" y="108.28" style="fill: #4b0082"/>
     <use href="#m07d145b373" x="530.84306" y="118.56" style="fill: #4b0082"/>
     <use href="#m07d145b373" x="534.863601" y="126.4" style="fill: #4b0082"/>
     <use href="#m07d145b373" x="538.884141" y="127.56" style="fill: #4b0082"/>
     <use href="#m07d145b373" x="542.904682" y="122.76" style="fill: #4b0082"/>
     <use href="#m07d145b373" x="546.925222" y="116.24" style="fill: #4b0082"/>
     <use href="#m07d145b373" x="550.945763" y="98.84" style="fill: #4b0082"/>
     <use href="#m07d145b373" x="554.966303" y="83.2" style="fill: #4b0082"/>
     <use href="#m07d145b373" x="558.986844" y="60.6" style="fill: #4b0082"/>
     <use href="#m07d145b373" x="563.007384" y="47.28" style="fill: #4b0082"/>
     <use href="#m07d145b373" x="567.027925" y="35.68" style="fill: #4b0082"/>
     <use href="#m07d145b373" x="571.048465" y="23.8" style="fill: #4b0082"/>
     <use href="#m07d145b373" x="575.069006" y="23.48" style="fill: #4b0082"/>
     <use href="#m07d145b373" x="579.089546" y="30.44" style="fill: #4b0082"/>
     <use href="#m07d145b373" x="583.110087" y="35.08" style="fill: #4b0082"/>
     <use href="#m07d145b373" x="587.130627" y="46.24" style="fill: #4b0082"/>
     <use href="#m07d145b373" x="591.151168" y="72.32" style="fill: #4b0082"/>
    </g>
   </g>
   <g id="patch_41">
    <path d="M 348.6 140.08 
L 348.6 15 
" style="fill: none; stroke: #000000; stroke-width: 0.8; stroke-linejoin: miter; stroke-linecap: square"/>
   </g>
   <g id="patch_42">
    <path d="M 592.88 140.08 
L 592.88 15 
" style="fill: none; stroke: #000000; stroke-width: 0.8; stroke-linejoin: miter; stroke-linecap: square"/>
   </g>
   <g id="patch_43">
    <path d="M 348.6 140.08 
L 592.88 140.08 
" style="fill: none; stroke: #000000; stroke-width: 0.8; stroke-linejoin: miter; stroke-linecap: square"/>
   </g>
   <g id="patch_44">
    <path d="M 348.6 15 
L 592.88 15 
" style="fill: none; stroke: #000000; stroke-width: 0.8; stroke-linejoin: miter; stroke-linecap: square"/>
   </g>
  </g>
  <g id="axes_7">
   <g id="patch_45">
    <path d="M 43 315.32 
L 287.4 315.32 
L 287.4 190.12 
L 43 190.12 
z
" style="fill: #ffffff"/>
   </g>
   <g id="matplotlib.axis_13">
    <g id="xtick_31">
     <g id="line2d_40">
      <g>
       <use href="#m3040d6da13" x="43.680284" y="315.32" style="stroke: #000000; stroke-width: 0.8"/>
      </g>
     </g>
     <g id="text_41">
      <text style="font-size: 10.350px; font-family: 'Liberation Sans', sans-serif; text-anchor: middle" x="43.680284" y="329.918437" transform="rotate(-0 43.680284 329.918437)" textLength="6.280" lengthAdjust="spacingAndGlyphs">0</text>
     </g>
    </g>
    <g id="xtick_32">
     <g id="line2d_41">
      <g>
       <use href="#m3040d6da13" x="84.173358" y="315.32" style="stroke: #000000; stroke-width: 0.8"/>
      </g>
     </g>
     <g id="text_42">
      <text style="font-size: 10.350px; font-family: 'Liberation Sans', sans-serif; text-anchor: middle" x="84.173358" y="329.918437" transform="rotate(-0 84.173358 329.918437)" textLength="12.559" lengthAdjust="spacingAndGlyphs">50</text>
     </g>
    </g>
    <g id="xtick_33">
     <g id="line2d_42">
      <g>
       <use href="#m3040d6da13" x="124.666433" y="315.32" style="stroke: #000000; stroke-width: 0.8"/>
      </g>
     </g>
     <g id="text_43">
      <text style="font-size: 10.350px; font-family: 'Liberation Sans', sans-serif; text-anchor: middle" x="124.666433" y="329.918437" transform="rotate(-0 124.666433 329.918437)" textLength="18.839" lengthAdjust="spacingAndGlyphs">100</text>
     </g>
    </g>
    <g id="xtick_34">
     <g id="line2d_43">
      <g>
       <use href="#m3040d6da13" x="165.159507" y="315.32" style="stroke: #000000; stroke-width: 0.8"/>
      </g>
     </g>
     <g id="text_44">
      <text style="font-size: 10.350px; font-family: 'Liberation Sans', sans-serif; text-anchor: middle" x="165.159507" y="329.918437" transform="rotate(-0 165.159507 329.918437)" textLength="18.839" lengthAdjust="spacingAndGlyphs">150</text>
     </g>
    </g>
    <g id="xtick_35">
     <g id="line2d_44">
      <g>
       <use href="#m3040d6da13" x="205.652581" y="315.32" style="stroke: #000000; stroke-width: 0.8"/>
      </g>
     </g>
     <g id="text_45">
      <text style="font-size: 10.350px; font-family: 'Liberation Sans', sans-serif; text-anchor: middle" x="205.652581" y="329.918437" transform="rotate(-0 205.652581 329.918437)" textLength="18.839" lengthAdjust="spacingAndGlyphs">200</text>
     </g>
    </g>
    <g id="xtick_36">
     <g id="line2d_45">
      <g>
       <use href="#m3040d6da13" x="246.145656" y="315.32" style="stroke: #000000; stroke-width: 0.8"/>
      </g>
     </g>
     <g id="text_46">
      <text style="font-size: 10.350px; font-family: 'Liberation Sans', sans-serif; text-anchor: middle" x="246.145656" y="329.918437" transform="rotate(-0 246.145656 329.918437)" textLength="18.839" lengthAdjust="spacingAndGlyphs">250</text>
     </g>
    </g>
    <g id="xtick_37">
     <g id="line2d_46">
      <g>
       <use href="#m3040d6da13" x="286.63873" y="315.32" style="stroke: #000000; stroke-width: 0.8"/>
      </g>
     </g>
     <g id="text_47">
      <text style="font-size: 10.350px; font-family: 'Liberation Sans', sans-serif; text-anchor: middle" x="286.63873" y="329.918437" transform="rotate(-0 286.63873 329.918437)" textLength="18.839" lengthAdjust="spacingAndGlyphs">300</text>
     </g>
    </g>
    <g id="text_48">
     
     <g transform="translate(134.95 343.598125)">
      <text x="0.3923" y="-0.40625" style="font-size: 10.350px; font-family: 'Liberation Sans', sans-serif" textLength="7.600" lengthAdjust="spacingAndGlyphs">D</text>
<text x="7.9924" y="-0.40625" style="font-size: 10.350px; font-family: 'Liberation Sans', sans-serif" textLength="6.072" lengthAdjust="spacingAndGlyphs">e</text>
<text x="14.1846" y="-0.40625" style="font-size: 10.350px; font-family: 'Liberation Sans', sans-serif" textLength="2.503" lengthAdjust="spacingAndGlyphs">l</text>
<text x="16.8070" y="-0.40625" style="font-size: 10.350px; font-family: 'Liberation Sans', sans-serif" textLength="6.048" lengthAdjust="spacingAndGlyphs">a</text>
<text x="22.9597" y="-0.40625" style="font-size: 10.350px; font-family: 'Liberation Sans', sans-serif" textLength="5.632" lengthAdjust="spacingAndGlyphs">y</text>
<text x="40.9631" y="-0.40625" style="font-size: 10.350px; font-family: 'Liberation Sans', sans-serif" textLength="3.751" lengthAdjust="spacingAndGlyphs">(</text>
<text x="44.7639" y="-0.40625" style="font-size: 10.350px; font-family: 'Liberation Sans', sans-serif" textLength="6.255" lengthAdjust="spacingAndGlyphs">n</text>
<text x="51.0194" y="-0.40625" style="font-size: 10.350px; font-family: 'Liberation Sans', sans-serif" textLength="5.142" lengthAdjust="spacingAndGlyphs">s</text>
<text x="56.2115" y="-0.40625" style="font-size: 10.350px; font-family: 'Liberation Sans', sans-serif" textLength="3.751" lengthAdjust="spacingAndGlyphs">)</text>
<text x="32.6982" y="-0.40625" style="font-style: italic; font-size: 10.350px; font-family: 'Liberation Sans', sans-serif" textLength="4.213" lengthAdjust="spacingAndGlyphs">τ</text>
     </g>
    </g>
   </g>
   <g id="matplotlib.axis_14">
    <g id="ytick_19">
     <g id="line2d_47">
      <g>
       <use href="#m245f423433" x="43" y="299.67" style="stroke: #000000; stroke-width: 0.8"/>
      </g>
     </g>
     <g id="text_49">
      <text style="font-size: 10.350px; font-family: 'Liberation Sans', sans-serif; text-anchor: end" x="36" y="303.469219" transform="rotate(-0 36 303.469219)" textLength="15.697" lengthAdjust="spacingAndGlyphs">0.2</text>
     </g>
    </g>
    <g id="ytick_20">
     <g id="line2d_48">
      <g>
       <use href="#m245f423433" x="43" y="268.37" style="stroke: #000000; stroke-width: 0.8"/>
      </g>
     </g>
     <g id="text_50">
      <text style="font-size: 10.350px; font-family: 'Liberation Sans', sans-serif; text-anchor: end" x="36" y="272.169219" transform="rotate(-0 36 272.169219)" textLength="15.697" lengthAdjust="spacingAndGlyphs">0.4</text>
     </g>
    </g>
    <g id="ytick_21">
     <g id="line2d_49">
      <g>
       <use href="#m245f423433" x="43" y="237.07" style="stroke: #000000; stroke-width: 0.8"/>
      </g>
     </g>
     <g id="text_51">
      <text style="font-size: 10.350px; font-family: 'Liberation Sans', sans-serif; text-anchor: end" x="36" y="240.869219" transform="rotate(-0 36 240.869219)" textLength="15.697" lengthAdjust="spacingAndGlyphs">0.6</text>
     </g>
    </g>
    <g id="ytick_22">
     <g id="line2d_50">
      <g>
       <use href="#m245f423433" x="43" y="205.77" style="stroke: #000000; stroke-width: 0.8"/>
      </g>
     </g>
     <g id="text_52">
      <text style="font-size: 10.350px; font-family: 'Liberation Sans', sans-serif; text-anchor: end" x="36" y="209.569219" transform="rotate(-0 36 209.569219)" textLength="15.697" lengthAdjust="spacingAndGlyphs">0.8</text>
     </g>
    </g>
    <g id="text_53">
     
     <g transform="translate(13.996875 297.12) rotate(-90)">
      <text x="0.5767" y="-0.40625" style="font-size: 10.350px; font-family: 'Liberation Sans', sans-serif" textLength="5.952" lengthAdjust="spacingAndGlyphs">P</text>
<text x="6.6820" y="-0.40625" style="font-size: 10.350px; font-family: 'Liberation Sans', sans-serif" textLength="3.751" lengthAdjust="spacingAndGlyphs">r</text>
<text x="10.5865" y="-0.40625" style="font-size: 10.350px; font-family: 'Liberation Sans', sans-serif" textLength="6.039" lengthAdjust="spacingAndGlyphs">o</text>
<text x="16.6254" y="-0.40625" style="font-size: 10.350px; font-family: 'Liberation Sans', sans-serif" textLength="6.265" lengthAdjust="spacingAndGlyphs">b</text>
<text x="22.8903" y="-0.40625" style="font-size: 10.350px; font-family: 'Liberation Sans', sans-serif" textLength="6.048" lengthAdjust="spacingAndGlyphs">a</text>
<text x="28.9388" y="-0.40625" style="font-size: 10.350px; font-family: 'Liberation Sans', sans-serif" textLength="6.265" lengthAdjust="spacingAndGlyphs">b</text>
<text x="35.3235" y="-0.40625" style="font-size: 10.350px; font-family: 'Liberation Sans', sans-serif" textLength="2.503" lengthAdjust="spacingAndGlyphs">i</text>
<text x="38.0657" y="-0.40625" style="font-size: 10.350px; font-family: 'Liberation Sans', sans-serif" textLength="2.503" lengthAdjust="spacingAndGlyphs">l</text>
<text x="40.8079" y="-0.40625" style="font-size: 10.350px; font-family: 'Liberation Sans', sans-serif" textLength="2.503" lengthAdjust="spacingAndGlyphs">i</text>
<text x="43.8005" y="-0.40625" style="font-size: 10.350px; font-family: 'Liberation Sans', sans-serif" textLength="3.130" lengthAdjust="spacingAndGlyphs">t</text>
<text x="47.4047" y="-0.40625" style="font-size: 10.350px; font-family: 'Liberation Sans', sans-serif" textLength="5.632" lengthAdjust="spacingAndGlyphs">y</text>
<text x="72.5315" y="-0.40625" style="font-size: 10.350px; font-family: 'Liberation Sans', sans-serif" textLength="6.578" lengthAdjust="spacingAndGlyphs">=</text>
<text x="81.8860" y="-0.40625" style="font-size: 10.350px; font-family: 'Liberation Sans', sans-serif" textLength="6.265" lengthAdjust="spacingAndGlyphs">0</text>
<text x="56.3943" y="-0.40625" style="font-style: italic; font-size: 10.350px; font-family: 'Liberation Sans', sans-serif" textLength="9.383" lengthAdjust="spacingAndGlyphs">m</text>
<text x="65.8932" y="1.234375" style="font-style: italic; font-size: 7.245px; font-family: 'Liberation Sans', sans-serif" textLength="3.600" lengthAdjust="spacingAndGlyphs">s</text>
     </g>
    </g>
   </g>
   <g id="line2d_51">
    <path d="M 43.680284 309.373 
L 43.842364 309.276519 
L 44.166525 308.506826 
L 44.490685 306.978897 
L 44.976926 303.318073 
L 45.625248 296.085825 
L 46.43565 283.89615 
L 47.732292 259.888014 
L 49.515176 227.189808 
L 50.325578 215.9862 
L 50.973899 209.752526 
L 51.460141 206.924862 
L 51.784301 205.977185 
L 51.946382 205.790927 
L 52.108462 205.797797 
L 52.270542 205.999036 
L 52.594703 206.981153 
L 52.918864 208.721638 
L 53.405105 212.689732 
L 54.053426 220.27623 
L 54.863828 232.737071 
L 56.322551 259.559978 
L 57.619194 282.198557 
L 58.429596 293.038902 
L 59.077917 298.943898 
L 59.564158 301.495517 
L 59.888319 302.245829 
L 60.050399 302.330104 
L 60.212479 302.230987 
L 60.53664 301.510871 
L 60.860801 300.105531 
L 61.347042 296.764149 
L 61.995363 290.204155 
L 62.805765 279.226299 
L 64.102408 257.885754 
L 65.723211 231.929057 
L 66.533613 222.198638 
L 67.181935 216.914512 
L 67.668176 214.640546 
L 67.992336 213.978659 
L 68.154417 213.908796 
L 68.316497 214.003167 
L 68.640658 214.66111 
L 68.964818 215.934773 
L 69.45106 218.952217 
L 70.099381 224.859925 
L 70.909783 234.717592 
L 72.368506 256.255776 
L 73.827229 276.719671 
L 74.637631 285.151587 
L 75.285952 289.603701 
L 75.772193 291.405775 
L 76.096354 291.834454 
L 76.258434 291.81801 
L 76.582595 291.379798 
L 76.906756 290.412002 
L 77.392997 288.00372 
L 78.041318 283.153017 
L 78.85172 274.911817 
L 80.148363 258.721849 
L 81.769166 238.905385 
L 82.579568 231.467775 
L 83.227889 227.437483 
L 83.71413 225.714215 
L 84.038291 225.222673 
L 84.362452 225.247579 
L 84.686613 225.701869 
L 85.010773 226.568367 
L 85.497014 228.609964 
L 86.145336 232.598708 
L 86.955737 239.259832 
L 88.25238 252.216346 
L 89.873184 268.069473 
L 90.683586 274.088914 
L 91.331907 277.420195 
L 91.818148 278.910689 
L 92.142309 279.392681 
L 92.466469 279.463269 
L 92.79063 279.211011 
L 93.114791 278.665577 
L 93.601032 277.315934 
L 94.249353 274.597012 
L 95.059755 269.948879 
L 96.194317 261.877362 
L 98.301362 246.582083 
L 99.111764 242.169756 
L 99.760085 239.687058 
L 100.246326 238.533655 
L 100.570487 238.12466 
L 100.894648 238.010765 
L 101.218808 238.168012 
L 101.542969 238.577368 
L 102.02921 239.648594 
L 102.677532 241.865034 
L 103.487933 245.692757 
L 104.784576 253.315497 
L 106.40538 262.785483 
L 107.215781 266.400698 
L 107.864103 268.400182 
L 108.350344 269.290257 
L 108.674505 269.573668 
L 108.998665 269.610155 
L 109.322826 269.46857 
L 109.809067 268.961235 
L 110.295308 268.116216 
L 110.943629 266.515584 
L 111.754031 263.894525 
L 113.212754 258.222168 
L 114.671478 252.800598 
L 115.481879 250.513707 
L 116.130201 249.256044 
L 116.616442 248.699044 
L 117.102683 248.495284 
L 117.588924 248.608045 
L 118.075165 248.975833 
L 118.723486 249.831199 
L 119.533888 251.381559 
L 120.992611 254.877015 
L 122.289254 257.74492 
L 123.099656 258.973196 
L 123.747977 259.502996 
L 124.234218 259.605728 
L 125.368781 259.474911 
L 126.665423 259.062654 
L 128.448307 258.210115 
L 130.555352 257.224975 
L 131.851995 256.866901 
L 134.2832 256.404079 
L 135.255682 255.788416 
L 136.390245 254.797674 
L 140.280173 251.110091 
L 141.252655 250.595208 
L 142.063057 250.392109 
L 142.711378 250.422184 
L 143.197619 250.699302 
L 143.68386 251.209988 
L 144.332182 252.22047 
L 145.142584 253.916186 
L 146.601307 257.629993 
L 148.06003 261.147229 
L 148.870432 262.582435 
L 149.518753 263.327453 
L 150.004994 263.616939 
L 150.491235 263.660521 
L 150.977476 263.421487 
L 151.463717 262.897052 
L 152.112039 261.788759 
L 152.92244 259.853069 
L 154.219083 255.97235 
L 155.839887 251.143264 
L 156.650288 249.307753 
L 157.29861 248.301543 
L 157.784851 247.86217 
L 158.271092 247.712013 
L 158.757333 247.871337 
L 159.243574 248.349768 
L 159.729815 249.130336 
L 160.378137 250.591803 
L 161.350619 253.488594 
L 164.430145 263.539958 
L 165.078467 264.889964 
L 165.726788 265.735205 
L 166.213029 266.00459 
L 166.53719 266.00173 
L 166.861351 265.8373 
L 167.347592 265.289497 
L 167.833833 264.398523 
L 168.482154 262.732981 
L 169.454636 259.435664 
L 172.534163 248.015118 
L 173.182484 246.484924 
L 173.830806 245.529184 
L 174.317047 245.227018 
L 174.641207 245.236555 
L 174.965368 245.451722 
L 175.451609 246.160463 
L 175.93785 247.304572 
L 176.586172 249.422076 
L 177.558654 253.531167 
L 179.989859 264.33317 
L 180.63818 266.274265 
L 181.124422 267.262322 
L 181.610663 267.801845 
L 181.934823 267.900408 
L 182.258984 267.818293 
L 182.745225 267.410039 
L 183.231466 266.671498 
L 183.879787 265.213201 
L 184.690189 262.744715 
L 185.824752 258.469189 
L 188.093877 249.728861 
L 188.904278 247.414783 
L 189.5526 246.109869 
L 190.038841 245.498447 
L 190.525082 245.223398 
L 190.849243 245.231912 
L 191.335484 245.53643 
L 191.821725 246.18184 
L 192.470046 247.53454 
L 193.280448 249.900296 
L 194.41501 254.072632 
L 196.684135 262.605579 
L 197.494537 264.799523 
L 198.142858 265.982699 
L 198.629099 266.488619 
L 199.115341 266.648124 
L 199.439501 266.560495 
L 199.925742 266.144427 
L 200.411983 265.401108 
L 201.060305 263.949042 
L 201.870706 261.529633 
L 203.32943 256.250592 
L 204.788153 251.242217 
L 205.598555 249.182026 
L 206.246876 248.096698 
L 206.733117 247.65959 
L 207.219358 247.562164 
L 207.705599 247.753353 
L 208.19184 248.202442 
L 208.840162 249.175781 
L 209.650563 250.910652 
L 210.785126 254.013173 
L 213.054251 260.468933 
L 213.864652 262.164359 
L 214.512974 263.098779 
L 214.999215 263.515843 
L 215.485456 263.673738 
L 215.971697 263.558807 
L 216.457938 263.163683 
L 217.10626 262.231058 
L 217.916661 260.516146 
L 219.051224 257.460773 
L 220.834108 252.669374 
L 221.644509 251.116167 
L 222.292831 250.346242 
L 222.779072 250.084804 
L 223.265313 250.090571 
L 223.751554 250.28905 
L 224.399875 250.827498 
L 225.210277 251.893489 
L 226.182759 253.616691 
L 229.424366 259.857031 
L 230.234768 260.798208 
L 230.883089 261.220602 
L 231.36933 261.326968 
L 231.855571 261.25607 
L 232.503893 260.907606 
L 233.152214 260.293956 
L 233.962616 259.225018 
L 235.58342 256.580965 
L 236.880062 254.653911 
L 237.690464 253.819019 
L 238.338786 253.440854 
L 238.987107 253.349429 
L 239.797509 253.522924 
L 240.60791 253.941819 
L 241.580393 254.706723 
L 243.525357 256.63476 
L 244.822 257.763272 
L 245.794482 258.311197 
L 246.604883 258.503303 
L 247.577366 258.44459 
L 248.711928 258.130959 
L 250.170651 257.447091 
L 252.926017 256.060606 
L 254.06058 255.75398 
L 255.033062 255.698648 
L 256.167624 255.870996 
L 258.92299 256.472593 
L 260.057553 256.38947 
L 261.516276 256.011584 
L 263.29916 255.579533 
L 264.433722 255.55672 
L 265.568285 255.760996 
L 266.864927 256.228971 
L 268.971972 257.287732 
L 270.916936 258.197093 
L 272.213579 258.567569 
L 273.348141 258.665987 
L 274.158543 258.517047 
L 274.968945 258.1321 
L 275.941427 257.422944 
L 279.345114 254.646392 
L 280.155516 254.348245 
L 280.965918 254.298886 
L 281.614239 254.472923 
L 282.424641 254.939439 
L 283.559204 255.893575 
L 285.180007 257.236188 
L 285.990409 257.626844 
L 286.63873 257.728 
L 286.63873 257.728 
" clip-path="url(#pab57ca916b)" style="fill: none; stroke: #4b0082; stroke-width: 1.2; stroke-linecap: square"/>
   </g>
   <g id="line2d_52">
    <defs>
     <path id="m985934a309" d="M 0 1.3 
C 0.344764 1.3 0.675454 1.163024 0.919239 0.919239 
C 1.163024 0.675454 1.3 0.344764 1.3 0 
C 1.3 -0.344764 1.163024 -0.675454 0.919239 -0.919239 
C 0.675454 -1.163024 0.344764 -1.3 0 -1.3 
C -0.344764 -1.3 -0.675454 -1.163024 -0.919239 -0.919239 
C -1.163024 -0.675454 -1.3 -0.344764 -1.3 0 
C -1.3 0.344764 -1.163024 0.675454 -0.919239 0.919239 
C -0.675454 1.163024 -0.344764 1.3 0 1.3 
z
"/>
    </defs>
    <g clip-path="url(#pab57ca916b)">
     <use href="#m985934a309" x="43.680284" y="309.373" style="fill: #4b0082"/>
     <use href="#m985934a309" x="44.490145" y="306.982063" style="fill: #4b0082"/>
     <use href="#m985934a309" x="45.300007" y="300.029963" style="fill: #4b0082"/>
     <use href="#m985934a309" x="46.109868" y="289.158459" style="fill: #4b0082"/>
     <use href="#m985934a309" x="46.91973" y="275.796152" style="fill: #4b0082"/>
     <use href="#m985934a309" x="47.729591" y="260.143108" style="fill: #4b0082"/>
     <use href="#m985934a309" x="48.539453" y="246.188275" style="fill: #4b0082"/>
     <use href="#m985934a309" x="49.349314" y="230.086035" style="fill: #4b0082"/>
     <use href="#m985934a309" x="50.159176" y="218.814756" style="fill: #4b0082"/>
     <use href="#m985934a309" x="50.969037" y="209.839" style="fill: #4b0082"/>
     <use href="#m985934a309" x="51.778899" y="202.014" style="fill: #4b0082"/>
     <use href="#m985934a309" x="52.58876" y="206.396" style="fill: #4b0082"/>
     <use href="#m985934a309" x="53.398622" y="212.890725" style="fill: #4b0082"/>
     <use href="#m985934a309" x="54.208483" y="223.060706" style="fill: #4b0082"/>
     <use href="#m985934a309" x="55.018344" y="236.388197" style="fill: #4b0082"/>
     <use href="#m985934a309" x="55.828206" y="250.591004" style="fill: #4b0082"/>
     <use href="#m985934a309" x="56.638067" y="264.980204" style="fill: #4b0082"/>
     <use href="#m985934a309" x="57.447929" y="279.728829" style="fill: #4b0082"/>
     <use href="#m985934a309" x="58.25779" y="290.135732" style="fill: #4b0082"/>
     <use href="#m985934a309" x="59.067652" y="299.0597" style="fill: #4b0082"/>
     <use href="#m985934a309" x="59.877513" y="302.210517" style="fill: #4b0082"/>
     <use href="#m985934a309" x="60.687375" y="299.489997" style="fill: #4b0082"/>
     <use href="#m985934a309" x="61.497236" y="294.936189" style="fill: #4b0082"/>
     <use href="#m985934a309" x="62.307098" y="286.774971" style="fill: #4b0082"/>
     <use href="#m985934a309" x="63.116959" y="274.566182" style="fill: #4b0082"/>
     <use href="#m985934a309" x="63.926821" y="260.387744" style="fill: #4b0082"/>
     <use href="#m985934a309" x="64.736682" y="245.307312" style="fill: #4b0082"/>
     <use href="#m985934a309" x="65.546544" y="234.682851" style="fill: #4b0082"/>
     <use href="#m985934a309" x="66.356405" y="224.282598" style="fill: #4b0082"/>
     <use href="#m985934a309" x="67.166267" y="214.847" style="fill: #4b0082"/>
     <use href="#m985934a309" x="67.976128" y="207.8045" style="fill: #4b0082"/>
     <use href="#m985934a309" x="68.78599" y="211.091" style="fill: #4b0082"/>
     <use href="#m985934a309" x="69.595851" y="216.5685" style="fill: #4b0082"/>
     <use href="#m985934a309" x="70.405713" y="227.75986" style="fill: #4b0082"/>
     <use href="#m985934a309" x="71.215574" y="238.883245" style="fill: #4b0082"/>
     <use href="#m985934a309" x="72.025436" y="250.393076" style="fill: #4b0082"/>
     <use href="#m985934a309" x="72.835297" y="265.916229" style="fill: #4b0082"/>
     <use href="#m985934a309" x="73.645159" y="273.502927" style="fill: #4b0082"/>
     <use href="#m985934a309" x="74.45502" y="284.408916" style="fill: #4b0082"/>
     <use href="#m985934a309" x="75.264882" y="291.061746" style="fill: #4b0082"/>
     <use href="#m985934a309" x="76.074743" y="291.565798" style="fill: #4b0082"/>
     <use href="#m985934a309" x="76.884605" y="289.836907" style="fill: #4b0082"/>
     <use href="#m985934a309" x="77.694466" y="286.384984" style="fill: #4b0082"/>
     <use href="#m985934a309" x="78.504328" y="279.708941" style="fill: #4b0082"/>
     <use href="#m985934a309" x="79.314189" y="269.388616" style="fill: #4b0082"/>
     <use href="#m985934a309" x="80.124051" y="259.088914" style="fill: #4b0082"/>
     <use href="#m985934a309" x="80.933912" y="247.292951" style="fill: #4b0082"/>
     <use href="#m985934a309" x="81.743774" y="238.472777" style="fill: #4b0082"/>
     <use href="#m985934a309" x="82.553635" y="231.485226" style="fill: #4b0082"/>
     <use href="#m985934a309" x="83.363497" y="225.796531" style="fill: #4b0082"/>
     <use href="#m985934a309" x="84.173358" y="225.368986" style="fill: #4b0082"/>
     <use href="#m985934a309" x="84.98322" y="227.348396" style="fill: #4b0082"/>
     <use href="#m985934a309" x="85.793081" y="229.714422" style="fill: #4b0082"/>
     <use href="#m985934a309" x="86.602943" y="235.617474" style="fill: #4b0082"/>
     <use href="#m985934a309" x="87.412804" y="243.819172" style="fill: #4b0082"/>
     <use href="#m985934a309" x="88.222666" y="252.641533" style="fill: #4b0082"/>
     <use href="#m985934a309" x="89.032527" y="260.020855" style="fill: #4b0082"/>
     <use href="#m985934a309" x="89.842388" y="270.14846" style="fill: #4b0082"/>
     <use href="#m985934a309" x="90.65225" y="273.243853" style="fill: #4b0082"/>
     <use href="#m985934a309" x="91.462111" y="277.446176" style="fill: #4b0082"/>
     <use href="#m985934a309" x="92.271973" y="282.546139" style="fill: #4b0082"/>
     <use href="#m985934a309" x="93.081834" y="278.619003" style="fill: #4b0082"/>
     <use href="#m985934a309" x="93.679141" y="278.53369" style="fill: #4b0082"/>
     <use href="#m985934a309" x="95.319103" y="278.53369" style="fill: #4b0082"/>
     <use href="#m985934a309" x="96.159084" y="269.883741" style="fill: #4b0082"/>
     <use href="#m985934a309" x="97.279059" y="267.400885" style="fill: #4b0082"/>
     <use href="#m985934a309" x="97.839046" y="257.950015" style="fill: #4b0082"/>
     <use href="#m985934a309" x="98.95902" y="249.580389" style="fill: #4b0082"/>
     <use href="#m985934a309" x="100.318989" y="251.262323" style="fill: #4b0082"/>
     <use href="#m985934a309" x="100.878976" y="238.207308" style="fill: #4b0082"/>
     <use href="#m985934a309" x="101.998951" y="240.129519" style="fill: #4b0082"/>
     <use href="#m985934a309" x="102.838931" y="248.218823" style="fill: #4b0082"/>
     <use href="#m985934a309" x="103.678912" y="255.987758" style="fill: #4b0082"/>
     <use href="#m985934a309" x="104.318898" y="265.158306" style="fill: #4b0082"/>
     <use href="#m985934a309" x="105.238877" y="267.841392" style="fill: #4b0082"/>
     <use href="#m985934a309" x="106.158856" y="272.967288" style="fill: #4b0082"/>
     <use href="#m985934a309" x="106.718843" y="275.730466" style="fill: #4b0082"/>
     <use href="#m985934a309" x="108.118811" y="274.088577" style="fill: #4b0082"/>
     <use href="#m985934a309" x="109.238785" y="275.730466" style="fill: #4b0082"/>
     <use href="#m985934a309" x="110.31876" y="272.406643" style="fill: #4b0082"/>
     <use href="#m985934a309" x="111.718728" y="273.527932" style="fill: #4b0082"/>
     <use href="#m985934a309" x="112.558709" y="267.400885" style="fill: #4b0082"/>
     <use href="#m985934a309" x="113.39869" y="263.516418" style="fill: #4b0082"/>
     <use href="#m985934a309" x="114.238671" y="262.114806" style="fill: #4b0082"/>
     <use href="#m985934a309" x="115.038653" y="259.591904" style="fill: #4b0082"/>
     <use href="#m985934a309" x="115.878633" y="254.34587" style="fill: #4b0082"/>
     <use href="#m985934a309" x="116.718614" y="254.065548" style="fill: #4b0082"/>
     <use href="#m985934a309" x="117.558595" y="248.218823" style="fill: #4b0082"/>
     <use href="#m985934a309" x="118.118582" y="251.542646" style="fill: #4b0082"/>
     <use href="#m985934a309" x="118.958563" y="254.586146" style="fill: #4b0082"/>
     <use href="#m985934a309" x="119.758545" y="262.114806" style="fill: #4b0082"/>
     <use href="#m985934a309" x="120.598525" y="264.077062" style="fill: #4b0082"/>
     <use href="#m985934a309" x="121.7185" y="264.877984" style="fill: #4b0082"/>
     <use href="#m985934a309" x="122.558481" y="264.477523" style="fill: #4b0082"/>
     <use href="#m985934a309" x="123.118468" y="270.164063" style="fill: #4b0082"/>
     <use href="#m985934a309" x="123.838451" y="266.319642" style="fill: #4b0082"/>
     <use href="#m985934a309" x="124.598434" y="255.947712" style="fill: #4b0082"/>
     <use href="#m985934a309" x="125.718408" y="257.990061" style="fill: #4b0082"/>
     <use href="#m985934a309" x="126.998379" y="259.071305" style="fill: #4b0082"/>
     <use href="#m985934a309" x="128.478345" y="256.668541" style="fill: #4b0082"/>
     <use href="#m985934a309" x="130.158307" y="254.265778" style="fill: #4b0082"/>
     <use href="#m985934a309" x="131.078286" y="258.71089" style="fill: #4b0082"/>
     <use href="#m985934a309" x="132.758248" y="253.544949" style="fill: #4b0082"/>
     <use href="#m985934a309" x="133.678227" y="252.784074" style="fill: #4b0082"/>
     <use href="#m985934a309" x="134.758202" y="255.747482" style="fill: #4b0082"/>
     <use href="#m985934a309" x="135.878176" y="254.626192" style="fill: #4b0082"/>
     <use href="#m985934a309" x="136.798155" y="258.350476" style="fill: #4b0082"/>
     <use href="#m985934a309" x="138.278121" y="252.984304" style="fill: #4b0082"/>
     <use href="#m985934a309" x="139.758088" y="251.662784" style="fill: #4b0082"/>
     <use href="#m985934a309" x="140.878062" y="253.144488" style="fill: #4b0082"/>
     <use href="#m985934a309" x="141.638045" y="249.05979" style="fill: #4b0082"/>
     <use href="#m985934a309" x="143.478003" y="249.460251" style="fill: #4b0082"/>
     <use href="#m985934a309" x="144.03799" y="255.026653" style="fill: #4b0082"/>
     <use href="#m985934a309" x="145.717951" y="254.265778" style="fill: #4b0082"/>
     <use href="#m985934a309" x="146.63793" y="256.508357" style="fill: #4b0082"/>
     <use href="#m985934a309" x="147.197917" y="259.471766" style="fill: #4b0082"/>
     <use href="#m985934a309" x="148.277893" y="260.95347" style="fill: #4b0082"/>
     <use href="#m985934a309" x="149.397867" y="262.074759" style="fill: #4b0082"/>
     <use href="#m985934a309" x="149.597863" y="259.271535" style="fill: #4b0082"/>
     <use href="#m985934a309" x="149.757859" y="263.556464" style="fill: #4b0082"/>
     <use href="#m985934a309" x="149.997853" y="262.234944" style="fill: #4b0082"/>
     <use href="#m985934a309" x="150.757836" y="263.836786" style="fill: #4b0082"/>
     <use href="#m985934a309" x="152.3578" y="259.271535" style="fill: #4b0082"/>
     <use href="#m985934a309" x="153.117782" y="260.673147" style="fill: #4b0082"/>
     <use href="#m985934a309" x="153.717768" y="254.5461" style="fill: #4b0082"/>
     <use href="#m985934a309" x="154.51775" y="252.984304" style="fill: #4b0082"/>
     <use href="#m985934a309" x="155.277733" y="251.222277" style="fill: #4b0082"/>
     <use href="#m985934a309" x="156.477705" y="252.383613" style="fill: #4b0082"/>
     <use href="#m985934a309" x="157.077692" y="247.257718" style="fill: #4b0082"/>
     <use href="#m985934a309" x="158.237665" y="247.257718" style="fill: #4b0082"/>
     <use href="#m985934a309" x="159.437638" y="249.620435" style="fill: #4b0082"/>
     <use href="#m985934a309" x="160.397616" y="246.857257" style="fill: #4b0082"/>
     <use href="#m985934a309" x="160.997602" y="248.058639" style="fill: #4b0082"/>
     <use href="#m985934a309" x="161.797584" y="250.421356" style="fill: #4b0082"/>
     <use href="#m985934a309" x="162.757562" y="255.347021" style="fill: #4b0082"/>
     <use href="#m985934a309" x="163.557544" y="260.072456" style="fill: #4b0082"/>
     <use href="#m985934a309" x="164.357525" y="261.834483" style="fill: #4b0082"/>
     <use href="#m985934a309" x="164.957512" y="266.199504" style="fill: #4b0082"/>
     <use href="#m985934a309" x="165.91749" y="262.234944" style="fill: #4b0082"/>
     <use href="#m985934a309" x="166.717471" y="266.599964" style="fill: #4b0082"/>
     <use href="#m985934a309" x="168.07744" y="264.637707" style="fill: #4b0082"/>
     <use href="#m985934a309" x="169.277413" y="259.671996" style="fill: #4b0082"/>
     <use href="#m985934a309" x="170.037395" y="261.634253" style="fill: #4b0082"/>
     <use href="#m985934a309" x="170.637382" y="252.984304" style="fill: #4b0082"/>
     <use href="#m985934a309" x="171.837354" y="249.219974" style="fill: #4b0082"/>
     <use href="#m985934a309" x="172.997328" y="244.294309" style="fill: #4b0082"/>
     <use href="#m985934a309" x="174.1973" y="245.495691" style="fill: #4b0082"/>
     <use href="#m985934a309" x="174.797287" y="239.568874" style="fill: #4b0082"/>
     <use href="#m985934a309" x="176.357251" y="243.933895" style="fill: #4b0082"/>
     <use href="#m985934a309" x="177.157233" y="248.85956" style="fill: #4b0082"/>
     <use href="#m985934a309" x="178.117211" y="252.784074" style="fill: #4b0082"/>
     <use href="#m985934a309" x="178.917192" y="255.146791" style="fill: #4b0082"/>
     <use href="#m985934a309" x="179.397181" y="255.186837" style="fill: #4b0082"/>
     <use href="#m985934a309" x="179.91717" y="261.073608" style="fill: #4b0082"/>
     <use href="#m985934a309" x="180.437158" y="260.633101" style="fill: #4b0082"/>
     <use href="#m985934a309" x="180.677152" y="267.56107" style="fill: #4b0082"/>
     <use href="#m985934a309" x="181.277139" y="267.521024" style="fill: #4b0082"/>
     <use href="#m985934a309" x="182.757105" y="264.998122" style="fill: #4b0082"/>
     <use href="#m985934a309" x="183.797081" y="266.680056" style="fill: #4b0082"/>
     <use href="#m985934a309" x="184.837057" y="264.797892" style="fill: #4b0082"/>
     <use href="#m985934a309" x="185.437043" y="259.992364" style="fill: #4b0082"/>
     <use href="#m985934a309" x="186.277024" y="257.269232" style="fill: #4b0082"/>
     <use href="#m985934a309" x="186.91701" y="252.904212" style="fill: #4b0082"/>
     <use href="#m985934a309" x="187.75699" y="249.139882" style="fill: #4b0082"/>
     <use href="#m985934a309" x="188.556972" y="249.780619" style="fill: #4b0082"/>
     <use href="#m985934a309" x="189.396953" y="247.497994" style="fill: #4b0082"/>
     <use href="#m985934a309" x="190.236934" y="244.574632" style="fill: #4b0082"/>
     <use href="#m985934a309" x="191.076915" y="242.25196" style="fill: #4b0082"/>
     <use href="#m985934a309" x="191.7169" y="246.857257" style="fill: #4b0082"/>
     <use href="#m985934a309" x="192.756876" y="248.539191" style="fill: #4b0082"/>
     <use href="#m985934a309" x="193.556858" y="247.057487" style="fill: #4b0082"/>
     <use href="#m985934a309" x="193.996848" y="255.427114" style="fill: #4b0082"/>
     <use href="#m985934a309" x="195.236819" y="256.228035" style="fill: #4b0082"/>
     <use href="#m985934a309" x="195.63681" y="261.033562" style="fill: #4b0082"/>
     <use href="#m985934a309" x="196.276796" y="262.27499" style="fill: #4b0082"/>
     <use href="#m985934a309" x="197.316772" y="264.597661" style="fill: #4b0082"/>
     <use href="#m985934a309" x="198.356748" y="264.998122" style="fill: #4b0082"/>
     <use href="#m985934a309" x="199.196729" y="266.23955" style="fill: #4b0082"/>
     <use href="#m985934a309" x="200.436701" y="262.515266" style="fill: #4b0082"/>
     <use href="#m985934a309" x="200.876691" y="260.192595" style="fill: #4b0082"/>
     <use href="#m985934a309" x="201.916667" y="263.556464" style="fill: #4b0082"/>
     <use href="#m985934a309" x="202.316658" y="256.228035" style="fill: #4b0082"/>
     <use href="#m985934a309" x="203.156638" y="254.986607" style="fill: #4b0082"/>
     <use href="#m985934a309" x="203.996619" y="251.022047" style="fill: #4b0082"/>
     <use href="#m985934a309" x="204.8366" y="247.898454" style="fill: #4b0082"/>
     <use href="#m985934a309" x="205.636582" y="244.774862" style="fill: #4b0082"/>
     <use href="#m985934a309" x="206.916552" y="244.774862" style="fill: #4b0082"/>
     <use href="#m985934a309" x="207.956529" y="242.492236" style="fill: #4b0082"/>
     <use href="#m985934a309" x="209.596491" y="244.975092" style="fill: #4b0082"/>
     <use href="#m985934a309" x="209.956483" y="244.774862" style="fill: #4b0082"/>
     <use href="#m985934a309" x="210.636467" y="247.177625" style="fill: #4b0082"/>
     <use href="#m985934a309" x="211.316452" y="248.218823" style="fill: #4b0082"/>
     <use href="#m985934a309" x="212.196432" y="253.785225" style="fill: #4b0082"/>
     <use href="#m985934a309" x="212.876416" y="258.31043" style="fill: #4b0082"/>
     <use href="#m985934a309" x="213.5964" y="255.347021" style="fill: #4b0082"/>
     <use href="#m985934a309" x="214.796372" y="258.670844" style="fill: #4b0082"/>
     <use href="#m985934a309" x="216.19634" y="263.876832" style="fill: #4b0082"/>
     <use href="#m985934a309" x="217.07632" y="260.232641" style="fill: #4b0082"/>
     <use href="#m985934a309" x="218.436289" y="255.86762" style="fill: #4b0082"/>
     <use href="#m985934a309" x="219.156273" y="252.583843" style="fill: #4b0082"/>
     <use href="#m985934a309" x="219.996253" y="251.70283" style="fill: #4b0082"/>
     <use href="#m985934a309" x="220.876233" y="248.579237" style="fill: #4b0082"/>
     <use href="#m985934a309" x="221.756213" y="251.022047" style="fill: #4b0082"/>
     <use href="#m985934a309" x="222.636193" y="242.692467" style="fill: #4b0082"/>
     <use href="#m985934a309" x="223.476174" y="248.218823" style="fill: #4b0082"/>
     <use href="#m985934a309" x="224.196157" y="247.177625" style="fill: #4b0082"/>
     <use href="#m985934a309" x="224.876142" y="251.70283" style="fill: #4b0082"/>
     <use href="#m985934a309" x="225.916118" y="251.382462" style="fill: #4b0082"/>
     <use href="#m985934a309" x="226.796098" y="252.423659" style="fill: #4b0082"/>
     <use href="#m985934a309" x="227.316086" y="256.748634" style="fill: #4b0082"/>
     <use href="#m985934a309" x="228.156067" y="258.31043" style="fill: #4b0082"/>
     <use href="#m985934a309" x="229.036047" y="255.186837" style="fill: #4b0082"/>
     <use href="#m985934a309" x="230.596011" y="251.182231" style="fill: #4b0082"/>
     <use href="#m985934a309" x="231.475991" y="254.14564" style="fill: #4b0082"/>
     <use href="#m985934a309" x="232.515967" y="254.826423" style="fill: #4b0082"/>
     <use href="#m985934a309" x="233.555944" y="255.186837" style="fill: #4b0082"/>
     <use href="#m985934a309" x="234.59592" y="255.86762" style="fill: #4b0082"/>
     <use href="#m985934a309" x="235.635896" y="252.063245" style="fill: #4b0082"/>
     <use href="#m985934a309" x="236.675872" y="252.744028" style="fill: #4b0082"/>
     <use href="#m985934a309" x="238.07584" y="249.620435" style="fill: #4b0082"/>
     <use href="#m985934a309" x="239.475808" y="248.058639" style="fill: #4b0082"/>
     <use href="#m985934a309" x="240.315789" y="250.141034" style="fill: #4b0082"/>
     <use href="#m985934a309" x="240.835777" y="250.341264" style="fill: #4b0082"/>
     <use href="#m985934a309" x="241.275767" y="250.701679" style="fill: #4b0082"/>
     <use href="#m985934a309" x="242.515739" y="254.34587" style="fill: #4b0082"/>
     <use href="#m985934a309" x="243.795709" y="251.943106" style="fill: #4b0082"/>
     <use href="#m985934a309" x="244.475694" y="253.504903" style="fill: #4b0082"/>
     <use href="#m985934a309" x="245.315675" y="254.626192" style="fill: #4b0082"/>
     <use href="#m985934a309" x="246.155656" y="256.828726" style="fill: #4b0082"/>
     <use href="#m985934a309" x="247.515624" y="254.065548" style="fill: #4b0082"/>
     <use href="#m985934a309" x="248.355605" y="255.146791" style="fill: #4b0082"/>
     <use href="#m985934a309" x="248.635599" y="257.389371" style="fill: #4b0082"/>
     <use href="#m985934a309" x="249.755573" y="257.669693" style="fill: #4b0082"/>
     <use href="#m985934a309" x="250.875548" y="258.51066" style="fill: #4b0082"/>
     <use href="#m985934a309" x="251.995522" y="257.389371" style="fill: #4b0082"/>
     <use href="#m985934a309" x="252.235517" y="253.785225" style="fill: #4b0082"/>
     <use href="#m985934a309" x="253.355491" y="252.944258" style="fill: #4b0082"/>
     <use href="#m985934a309" x="254.195472" y="250.982001" style="fill: #4b0082"/>
     <use href="#m985934a309" x="255.315446" y="250.982001" style="fill: #4b0082"/>
     <use href="#m985934a309" x="256.435421" y="248.499145" style="fill: #4b0082"/>
     <use href="#m985934a309" x="257.515396" y="249.179928" style="fill: #4b0082"/>
     <use href="#m985934a309" x="258.355377" y="251.70283" style="fill: #4b0082"/>
     <use href="#m985934a309" x="259.195357" y="254.626192" style="fill: #4b0082"/>
     <use href="#m985934a309" x="260.315332" y="254.34587" style="fill: #4b0082"/>
     <use href="#m985934a309" x="261.435306" y="254.866469" style="fill: #4b0082"/>
     <use href="#m985934a309" x="262.555281" y="253.785225" style="fill: #4b0082"/>
     <use href="#m985934a309" x="263.395261" y="255.146791" style="fill: #4b0082"/>
     <use href="#m985934a309" x="264.515236" y="253.504903" style="fill: #4b0082"/>
     <use href="#m985934a309" x="265.035224" y="255.146791" style="fill: #4b0082"/>
     <use href="#m985934a309" x="266.715186" y="256.828726" style="fill: #4b0082"/>
     <use href="#m985934a309" x="267.955157" y="252.784074" style="fill: #4b0082"/>
     <use href="#m985934a309" x="268.395147" y="258.190292" style="fill: #4b0082"/>
     <use href="#m985934a309" x="269.755116" y="258.51066" style="fill: #4b0082"/>
     <use href="#m985934a309" x="271.155084" y="258.51066" style="fill: #4b0082"/>
     <use href="#m985934a309" x="271.995065" y="257.669693" style="fill: #4b0082"/>
     <use href="#m985934a309" x="273.115039" y="259.591904" style="fill: #4b0082"/>
     <use href="#m985934a309" x="274.515007" y="259.071305" style="fill: #4b0082"/>
     <use href="#m985934a309" x="275.034995" y="255.987758" style="fill: #4b0082"/>
     <use href="#m985934a309" x="276.15497" y="254.866469" style="fill: #4b0082"/>
     <use href="#m985934a309" x="277.554938" y="255.707436" style="fill: #4b0082"/>
     <use href="#m985934a309" x="278.394919" y="251.542646" style="fill: #4b0082"/>
     <use href="#m985934a309" x="279.514893" y="254.065548" style="fill: #4b0082"/>
     <use href="#m985934a309" x="280.034881" y="251.542646" style="fill: #4b0082"/>
     <use href="#m985934a309" x="280.874862" y="249.340113" style="fill: #4b0082"/>
     <use href="#m985934a309" x="281.714843" y="253.504903" style="fill: #4b0082"/>
     <use href="#m985934a309" x="282.554824" y="251.142185" style="fill: #4b0082"/>
     <use href="#m985934a309" x="283.114811" y="255.707436" style="fill: #4b0082"/>
     <use href="#m985934a309" x="284.234785" y="255.427114" style="fill: #4b0082"/>
     <use href="#m985934a309" x="285.594754" y="253.785225" style="fill: #4b0082"/>
     <use href="#m985934a309" x="286.154741" y="254.466008" style="fill: #4b0082"/>
     <use href="#m985934a309" x="286.63873" y="254.241455" style="fill: #4b0082"/>
    </g>
   </g>
   <g id="patch_46">
    <path d="M 43 315.32 
L 43 190.12 
" style="fill: none; stroke: #000000; stroke-width: 0.8; stroke-linejoin: miter; stroke-linecap: square"/>
   </g>
   <g id="patch_47">
    <path d="M 287.4 315.32 
L 287.4 190.12 
" style="fill: none; stroke: #000000; stroke-width: 0.8; stroke-linejoin: miter; stroke-linecap: square"/>
   </g>
   <g id="patch_48">
    <path d="M 43 315.32 
L 287.4 315.32 
" style="fill: none; stroke: #000000; stroke-width: 0.8; stroke-linejoin: miter; stroke-linecap: square"/>
   </g>
   <g id="patch_49">
    <path d="M 43 190.12 
L 287.4 190.12 
" style="fill: none; stroke: #000000; stroke-width: 0.8; stroke-linejoin: miter; stroke-linecap: square"/>
   </g>
  </g>
  <g id="axes_8">
   <g id="patch_50">
    <path d="M 348.52 315.24 
L 592.88 315.24 
L 592.88 190.16 
L 348.52 190.16 
z
" style="fill: #ffffff"/>
   </g>
   <g id="matplotlib.axis_15">
    <g id="xtick_38">
     <g id="line2d_53">
      <g>
       <use href="#m3040d6da13" x="408.548304" y="315.24" style="stroke: #000000; stroke-width: 0.8"/>
      </g>
     </g>
     <g id="text_54">
      <text style="font-size: 10.350px; font-family: 'Liberation Sans', sans-serif; text-anchor: middle" x="408.548304" y="329.838437" transform="rotate(-0 408.548304 329.838437)" textLength="12.559" lengthAdjust="spacingAndGlyphs">50</text>
     </g>
    </g>
    <g id="xtick_39">
     <g id="line2d_54">
      <g>
       <use href="#m3040d6da13" x="490.001638" y="315.24" style="stroke: #000000; stroke-width: 0.8"/>
      </g>
     </g>
     <g id="text_55">
      <text style="font-size: 10.350px; font-family: 'Liberation Sans', sans-serif; text-anchor: middle" x="490.001638" y="329.838437" transform="rotate(-0 490.001638 329.838437)" textLength="18.839" lengthAdjust="spacingAndGlyphs">100</text>
     </g>
    </g>
    <g id="xtick_40">
     <g id="line2d_55">
      <g>
       <use href="#m3040d6da13" x="537.648783" y="315.24" style="stroke: #000000; stroke-width: 0.8"/>
      </g>
     </g>
     <g id="text_56">
      <text style="font-size: 10.350px; font-family: 'Liberation Sans', sans-serif; text-anchor: middle" x="537.648783" y="329.838437" transform="rotate(-0 537.648783 329.838437)" textLength="18.839" lengthAdjust="spacingAndGlyphs">150</text>
     </g>
    </g>
    <g id="xtick_41">
     <g id="line2d_56">
      <g>
       <use href="#m3040d6da13" x="571.454971" y="315.24" style="stroke: #000000; stroke-width: 0.8"/>
      </g>
     </g>
     <g id="text_57">
      <text style="font-size: 10.350px; font-family: 'Liberation Sans', sans-serif; text-anchor: middle" x="571.454971" y="329.838437" transform="rotate(-0 571.454971 329.838437)" textLength="18.839" lengthAdjust="spacingAndGlyphs">200</text>
     </g>
    </g>
    <g id="xtick_42">
     <g id="line2d_57">
      <defs>
       <path id="mb09afe435e" d="M 0 0 
L 0 2 
" style="stroke: #000000; stroke-width: 0.6"/>
      </defs>
      <g>
       <use href="#mb09afe435e" x="348.52" y="315.24" style="stroke: #000000; stroke-width: 0.6"/>
      </g>
     </g>
    </g>
    <g id="xtick_43">
     <g id="line2d_58">
      <g>
       <use href="#mb09afe435e" x="382.326188" y="315.24" style="stroke: #000000; stroke-width: 0.6"/>
      </g>
     </g>
    </g>
    <g id="xtick_44">
     <g id="line2d_59">
      <g>
       <use href="#mb09afe435e" x="429.973333" y="315.24" style="stroke: #000000; stroke-width: 0.6"/>
      </g>
     </g>
    </g>
    <g id="xtick_45">
     <g id="line2d_60">
      <g>
       <use href="#mb09afe435e" x="448.087937" y="315.24" style="stroke: #000000; stroke-width: 0.6"/>
      </g>
     </g>
    </g>
    <g id="xtick_46">
     <g id="line2d_61">
      <g>
       <use href="#mb09afe435e" x="463.779521" y="315.24" style="stroke: #000000; stroke-width: 0.6"/>
      </g>
     </g>
    </g>
    <g id="xtick_47">
     <g id="line2d_62">
      <g>
       <use href="#mb09afe435e" x="477.620479" y="315.24" style="stroke: #000000; stroke-width: 0.6"/>
      </g>
     </g>
    </g>
    <g id="xtick_48">
     <g id="line2d_63">
      <g>
       <use href="#mb09afe435e" x="501.201758" y="315.24" style="stroke: #000000; stroke-width: 0.6"/>
      </g>
     </g>
    </g>
    <g id="xtick_49">
     <g id="line2d_64">
      <g>
       <use href="#mb09afe435e" x="511.426667" y="315.24" style="stroke: #000000; stroke-width: 0.6"/>
      </g>
     </g>
    </g>
    <g id="xtick_50">
     <g id="line2d_65">
      <g>
       <use href="#mb09afe435e" x="520.832671" y="315.24" style="stroke: #000000; stroke-width: 0.6"/>
      </g>
     </g>
    </g>
    <g id="xtick_51">
     <g id="line2d_66">
      <g>
       <use href="#mb09afe435e" x="529.541271" y="315.24" style="stroke: #000000; stroke-width: 0.6"/>
      </g>
     </g>
    </g>
    <g id="xtick_52">
     <g id="line2d_67">
      <g>
       <use href="#mb09afe435e" x="545.232854" y="315.24" style="stroke: #000000; stroke-width: 0.6"/>
      </g>
     </g>
    </g>
    <g id="xtick_53">
     <g id="line2d_68">
      <g>
       <use href="#mb09afe435e" x="552.356994" y="315.24" style="stroke: #000000; stroke-width: 0.6"/>
      </g>
     </g>
    </g>
    <g id="xtick_54">
     <g id="line2d_69">
      <g>
       <use href="#mb09afe435e" x="559.073812" y="315.24" style="stroke: #000000; stroke-width: 0.6"/>
      </g>
     </g>
    </g>
    <g id="xtick_55">
     <g id="line2d_70">
      <g>
       <use href="#mb09afe435e" x="565.427377" y="315.24" style="stroke: #000000; stroke-width: 0.6"/>
      </g>
     </g>
    </g>
    <g id="xtick_56">
     <g id="line2d_71">
      <g>
       <use href="#mb09afe435e" x="577.188416" y="315.24" style="stroke: #000000; stroke-width: 0.6"/>
      </g>
     </g>
    </g>
    <g id="xtick_57">
     <g id="line2d_72">
      <g>
       <use href="#mb09afe435e" x="582.655091" y="315.24" style="stroke: #000000; stroke-width: 0.6"/>
      </g>
     </g>
    </g>
    <g id="xtick_58">
     <g id="line2d_73">
      <g>
       <use href="#mb09afe435e" x="587.878721" y="315.24" style="stroke: #000000; stroke-width: 0.6"/>
      </g>
     </g>
    </g>
    <g id="xtick_59">
     <g id="line2d_74">
      <g>
       <use href="#mb09afe435e" x="592.88" y="315.24" style="stroke: #000000; stroke-width: 0.6"/>
      </g>
     </g>
    </g>
    <g id="text_58">
     
     <g transform="translate(427 343.518125)">
      <text x="0.5672" y="-0.40625" style="font-size: 10.350px; font-family: 'Liberation Sans', sans-serif" textLength="6.029" lengthAdjust="spacingAndGlyphs">T</text>
<text x="6.5962" y="-0.40625" style="font-size: 10.350px; font-family: 'Liberation Sans', sans-serif" textLength="6.039" lengthAdjust="spacingAndGlyphs">o</text>
<text x="13.0050" y="-0.40625" style="font-size: 10.350px; font-family: 'Liberation Sans', sans-serif" textLength="3.130" lengthAdjust="spacingAndGlyphs">t</text>
<text x="16.5047" y="-0.40625" style="font-size: 10.350px; font-family: 'Liberation Sans', sans-serif" textLength="6.048" lengthAdjust="spacingAndGlyphs">a</text>
<text x="22.6728" y="-0.40625" style="font-size: 10.350px; font-family: 'Liberation Sans', sans-serif" textLength="2.503" lengthAdjust="spacingAndGlyphs">l</text>
<text x="28.4329" y="-0.40625" style="font-size: 10.350px; font-family: 'Liberation Sans', sans-serif" textLength="6.265" lengthAdjust="spacingAndGlyphs">d</text>
<text x="34.6977" y="-0.40625" style="font-size: 10.350px; font-family: 'Liberation Sans', sans-serif" textLength="6.072" lengthAdjust="spacingAndGlyphs">e</text>
<text x="40.8899" y="-0.40625" style="font-size: 10.350px; font-family: 'Liberation Sans', sans-serif" textLength="2.503" lengthAdjust="spacingAndGlyphs">l</text>
<text x="43.5123" y="-0.40625" style="font-size: 10.350px; font-family: 'Liberation Sans', sans-serif" textLength="6.048" lengthAdjust="spacingAndGlyphs">a</text>
<text x="49.6650" y="-0.40625" style="font-size: 10.350px; font-family: 'Liberation Sans', sans-serif" textLength="5.632" lengthAdjust="spacingAndGlyphs">y</text>
<text x="67.6684" y="-0.40625" style="font-size: 10.350px; font-family: 'Liberation Sans', sans-serif" textLength="3.751" lengthAdjust="spacingAndGlyphs">(</text>
<text x="71.4693" y="-0.40625" style="font-size: 10.350px; font-family: 'Liberation Sans', sans-serif" textLength="6.280" lengthAdjust="spacingAndGlyphs">μ</text>
<text x="77.7488" y="-0.40625" style="font-size: 10.350px; font-family: 'Liberation Sans', sans-serif" textLength="5.142" lengthAdjust="spacingAndGlyphs">s</text>
<text x="82.9409" y="-0.40625" style="font-size: 10.350px; font-family: 'Liberation Sans', sans-serif" textLength="3.751" lengthAdjust="spacingAndGlyphs">)</text>
<text x="59.4036" y="-0.40625" style="font-style: italic; font-size: 10.350px; font-family: 'Liberation Sans', sans-serif" textLength="4.213" lengthAdjust="spacingAndGlyphs">τ</text>
     </g>
    </g>
   </g>
   <g id="matplotlib.axis_16">
    <g id="ytick_23">
     <g id="line2d_75">
      <g>
       <use href="#m245f423433" x="348.52" y="300.524706" style="stroke: #000000; stroke-width: 0.8"/>
      </g>
     </g>
     <g id="text_59">
      <text style="font-size: 10.350px; font-family: 'Liberation Sans', sans-serif; text-anchor: end" x="341.52" y="304.323925" transform="rotate(-0 341.52 304.323925)" textLength="15.697" lengthAdjust="spacingAndGlyphs">0.5</text>
     </g>
    </g>
    <g id="ytick_24">
     <g id="line2d_76">
      <g>
       <use href="#m245f423433" x="348.52" y="275.999216" style="stroke: #000000; stroke-width: 0.8"/>
      </g>
     </g>
     <g id="text_60">
      <text style="font-size: 10.350px; font-family: 'Liberation Sans', sans-serif; text-anchor: end" x="341.52" y="279.798434" transform="rotate(-0 341.52 279.798434)" textLength="15.697" lengthAdjust="spacingAndGlyphs">0.6</text>
     </g>
    </g>
    <g id="ytick_25">
     <g id="line2d_77">
      <g>
       <use href="#m245f423433" x="348.52" y="251.473725" style="stroke: #000000; stroke-width: 0.8"/>
      </g>
     </g>
     <g id="text_61">
      <text style="font-size: 10.350px; font-family: 'Liberation Sans', sans-serif; text-anchor: end" x="341.52" y="255.272944" transform="rotate(-0 341.52 255.272944)" textLength="15.697" lengthAdjust="spacingAndGlyphs">0.7</text>
     </g>
    </g>
    <g id="ytick_26">
     <g id="line2d_78">
      <g>
       <use href="#m245f423433" x="348.52" y="226.948235" style="stroke: #000000; stroke-width: 0.8"/>
      </g>
     </g>
     <g id="text_62">
      <text style="font-size: 10.350px; font-family: 'Liberation Sans', sans-serif; text-anchor: end" x="341.52" y="230.747454" transform="rotate(-0 341.52 230.747454)" textLength="15.697" lengthAdjust="spacingAndGlyphs">0.8</text>
     </g>
    </g>
    <g id="ytick_27">
     <g id="line2d_79">
      <g>
       <use href="#m245f423433" x="348.52" y="202.422745" style="stroke: #000000; stroke-width: 0.8"/>
      </g>
     </g>
     <g id="text_63">
      <text style="font-size: 10.350px; font-family: 'Liberation Sans', sans-serif; text-anchor: end" x="341.52" y="206.221964" transform="rotate(-0 341.52 206.221964)" textLength="15.697" lengthAdjust="spacingAndGlyphs">0.9</text>
     </g>
    </g>
    <g id="text_64">
     
     <g transform="translate(319.516875 297.1) rotate(-90)">
      <text x="0.5767" y="-0.40625" style="font-size: 10.350px; font-family: 'Liberation Sans', sans-serif" textLength="5.952" lengthAdjust="spacingAndGlyphs">P</text>
<text x="6.6820" y="-0.40625" style="font-size: 10.350px; font-family: 'Liberation Sans', sans-serif" textLength="3.751" lengthAdjust="spacingAndGlyphs">r</text>
<text x="10.5865" y="-0.40625" style="font-size: 10.350px; font-family: 'Liberation Sans', sans-serif" textLength="6.039" lengthAdjust="spacingAndGlyphs">o</text>
<text x="16.6254" y="-0.40625" style="font-size: 10.350px; font-family: 'Liberation Sans', sans-serif" textLength="6.265" lengthAdjust="spacingAndGlyphs">b</text>
<text x="22.8903" y="-0.40625" style="font-size: 10.350px; font-family: 'Liberation Sans', sans-serif" textLength="6.048" lengthAdjust="spacingAndGlyphs">a</text>
<text x="28.9388" y="-0.40625" style="font-size: 10.350px; font-family: 'Liberation Sans', sans-serif" textLength="6.265" lengthAdjust="spacingAndGlyphs">b</text>
<text x="35.3235" y="-0.40625" style="font-size: 10.350px; font-family: 'Liberation Sans', sans-serif" textLength="2.503" lengthAdjust="spacingAndGlyphs">i</text>
<text x="38.0657" y="-0.40625" style="font-size: 10.350px; font-family: 'Liberation Sans', sans-serif" textLength="2.503" lengthAdjust="spacingAndGlyphs">l</text>
<text x="40.8079" y="-0.40625" style="font-size: 10.350px; font-family: 'Liberation Sans', sans-serif" textLength="2.503" lengthAdjust="spacingAndGlyphs">i</text>
<text x="43.8005" y="-0.40625" style="font-size: 10.350px; font-family: 'Liberation Sans', sans-serif" textLength="3.130" lengthAdjust="spacingAndGlyphs">t</text>
<text x="47.4047" y="-0.40625" style="font-size: 10.350px; font-family: 'Liberation Sans', sans-serif" textLength="5.632" lengthAdjust="spacingAndGlyphs">y</text>
<text x="72.5315" y="-0.40625" style="font-size: 10.350px; font-family: 'Liberation Sans', sans-serif" textLength="6.578" lengthAdjust="spacingAndGlyphs">=</text>
<text x="81.8860" y="-0.40625" style="font-size: 10.350px; font-family: 'Liberation Sans', sans-serif" textLength="6.265" lengthAdjust="spacingAndGlyphs">0</text>
<text x="56.3943" y="-0.40625" style="font-style: italic; font-size: 10.350px; font-family: 'Liberation Sans', sans-serif" textLength="9.383" lengthAdjust="spacingAndGlyphs">m</text>
<text x="65.8932" y="1.234375" style="font-style: italic; font-size: 7.245px; font-family: 'Liberation Sans', sans-serif" textLength="3.600" lengthAdjust="spacingAndGlyphs">s</text>
     </g>
    </g>
   </g>
   <g id="line2d_80">
    <path d="M 348.52 205.118908 
L 365.055639 205.989642 
L 379.753985 206.988643 
L 392.615038 208.080879 
L 404.251228 209.282762 
L 415.274987 210.644163 
L 425.686316 212.162616 
L 434.872782 213.718062 
L 444.059248 215.502376 
L 452.633283 217.398125 
L 460.594887 219.377993 
L 468.556491 221.587976 
L 475.905664 223.847487 
L 483.254837 226.330966 
L 490.60401 229.049551 
L 497.953183 232.011834 
L 505.302356 235.222876 
L 512.651529 238.683064 
L 520.000702 242.386853 
L 527.962306 246.659138 
L 536.536341 251.530753 
L 546.335238 257.375254 
L 561.033584 266.452665 
L 575.119499 275.072597 
L 583.081103 279.699753 
L 589.817845 283.378489 
L 592.88 284.961369 
L 592.88 284.961369 
" clip-path="url(#p075227292a)" style="fill: none; stroke: #808080; stroke-width: 2; stroke-linecap: square"/>
   </g>
   <g id="line2d_81">
    <path d="M 349.28 300.64 
L 350.12 304.8 
L 351.36 307.5 
L 352.52 306.04 
L 353.96 306.24 
L 354.92 302.28 
L 356.08 299.6 
L 357.4 298.76 
L 358.64 294.6 
L 359.92 299.6 
L 361.36 296.24 
L 362.28 301.68 
L 363.64 307.92 
L 364.92 299.8 
L 366.24 312.28 
L 367.6 307.08 
L 369.72 292.52 
L 371.04 294.6 
L 372.2 306.04 
L 373.44 306.44 
L 374.48 301.68 
L 375.76 294.36 
L 377.4 297.5 
L 378.64 295.4 
L 379.6 290.64 
L 380.96 291.68 
L 381.84 277.92 
L 383.44 277.92 
L 384.56 276.44 
L 385.6 270.92 
L 387.04 261.92 
L 388.2 265.6 
L 389.28 257.52 
L 390.6 255.56 
L 391.68 251.16 
L 393.04 241.2 
L 394.4 237.4 
L 395.32 228.32 
L 396.48 232.52 
L 397.64 228.12 
L 399.08 242.24 
L 400.24 218.8 
L 401.68 211.28 
L 402.48 230.44 
L 403.2 228.32 
L 404.12 239.64 
L 405.44 219.24 
L 406.32 216.2 
L 407.84 245.16 
L 408.96 262.4 
L 410.24 230 
L 411.52 236.48 
L 413.6 274.04 
L 414.64 269.56 
L 416.24 260.4 
L 417.32 281.72 
L 418.92 302.04 
L 419.96 290.56 
L 421.24 289.28 
L 422.64 291.28 
L 423.68 303.32 
L 425.08 299.8 
L 426.16 299.6 
L 427.2 306.52 
L 428.72 306.28 
L 429.76 299.8 
L 430.84 304.08 
L 432.2 307.56 
L 433.28 311.84 
L 434.88 311.32 
L 435.96 302.48 
L 437 306.52 
L 438.6 307.56 
L 440.44 303.16 
L 441.92 303.92 
L 443.32 302.64 
L 444.64 303.76 
L 445.8 311.64 
L 446.72 302.4 
L 448.24 298.56 
L 449.4 308.96 
L 450.56 302.28 
L 451.68 306.32 
L 452.88 308.64 
L 454.12 305.16 
L 455.36 303.56 
L 456.56 309.24 
L 457.96 298.44 
L 459.2 302.84 
L 460.28 297.4 
L 461.68 298.24 
L 462.76 307.84 
L 464 297.28 
L 465.48 293.6 
L 466.48 299.16 
L 467.68 296 
L 468.92 307.48 
L 470.32 307.96 
L 471.48 298 
L 472.76 299.16 
L 474.04 288.72 
L 475.2 286.64 
L 476.56 283.76 
L 477.76 272.16 
L 478.96 273.52 
L 480.16 278.44 
L 481.24 275.4 
L 482.64 269.36 
L 483.56 283.08 
L 484.76 251.6 
L 486.08 283.08 
L 487.28 231.6 
L 488.68 289.56 
L 489.88 232.8 
L 491.08 295.12 
L 492.2 258.24 
L 493.56 299 
L 494.76 270.12 
L 495.88 295.48 
L 497.2 295.12 
L 498.84 297.6 
L 501 297.84 
L 502.08 299.6 
L 503.48 299.36 
L 504.64 300.08 
L 505.8 301.68 
L 506.96 300.52 
L 508.24 295.68 
L 509.24 298.44 
L 510.64 299.36 
L 512.04 299.16 
L 513.2 294.76 
L 514.12 302.64 
L 515.76 303.68 
L 516.76 297.52 
L 518.04 303.32 
L 519.36 296.84 
L 520.6 300.32 
L 522.12 299.16 
L 522.92 288.4 
L 524.08 293.6 
L 525.36 291.28 
L 526.64 300.52 
L 527.68 296.12 
L 529.16 296.36 
L 530.48 299.72 
L 531.56 280.08 
L 533.92 290.68 
L 535.2 249.56 
L 536.28 281.64 
L 537.64 288.68 
L 538.88 276 
L 540.36 280.28 
L 541.32 300.68 
L 542.6 289.56 
L 543.56 295.12 
L 544.88 295.12 
L 546.16 293.64 
L 547.4 293.24 
L 548.76 293.24 
L 549.92 290.52 
L 551.48 292.28 
L 552.44 299.2 
L 553.76 294 
L 555.04 293.24 
L 556.36 298 
L 557.32 293.8 
L 558.56 297.32 
L 559.88 293.6 
L 561.28 294.84 
L 562.16 298.88 
L 563.56 299.52 
L 564.56 291.84 
L 565.88 290.52 
L 567.08 300.2 
L 568.4 307.44 
L 569.64 303.48 
L 570.72 291.4 
L 572.04 293.16 
L 573.24 288.24 
L 575.56 294.92 
L 576.88 298.44 
L 578.2 294.68 
L 579.32 299.76 
L 580.56 293.16 
L 581.72 301.08 
L 583.28 299.76 
L 584.16 296.24 
L 585.56 293.8 
L 587 296 
L 589 294.48 
L 590.52 297.76 
L 592.08 295.8 
L 592.08 295.8 
" clip-path="url(#p075227292a)" style="fill: none; stroke: #4b0082; stroke-width: 1.1; stroke-linecap: square"/>
    <defs>
     <path id="mf97814a1a1" d="M 0 1.15 
C 0.304984 1.15 0.597517 1.028829 0.813173 0.813173 
C 1.028829 0.597517 1.15 0.304984 1.15 0 
C 1.15 -0.304984 1.028829 -0.597517 0.813173 -0.813173 
C 0.597517 -1.028829 0.304984 -1.15 0 -1.15 
C -0.304984 -1.15 -0.597517 -1.028829 -0.813173 -0.813173 
C -1.028829 -0.597517 -1.15 -0.304984 -1.15 0 
C -1.15 0.304984 -1.028829 0.597517 -0.813173 0.813173 
C -0.597517 1.028829 -0.304984 1.15 0 1.15 
z
"/>
    </defs>
    <g clip-path="url(#p075227292a)">
     <use href="#mf97814a1a1" x="349.28" y="300.64" style="fill: #4b0082"/>
     <use href="#mf97814a1a1" x="350.12" y="304.8" style="fill: #4b0082"/>
     <use href="#mf97814a1a1" x="351.36" y="307.5" style="fill: #4b0082"/>
     <use href="#mf97814a1a1" x="352.52" y="306.04" style="fill: #4b0082"/>
     <use href="#mf97814a1a1" x="353.96" y="306.24" style="fill: #4b0082"/>
     <use href="#mf97814a1a1" x="354.92" y="302.28" style="fill: #4b0082"/>
     <use href="#mf97814a1a1" x="356.08" y="299.6" style="fill: #4b0082"/>
     <use href="#mf97814a1a1" x="357.4" y="298.76" style="fill: #4b0082"/>
     <use href="#mf97814a1a1" x="358.64" y="294.6" style="fill: #4b0082"/>
     <use href="#mf97814a1a1" x="359.92" y="299.6" style="fill: #4b0082"/>
     <use href="#mf97814a1a1" x="361.36" y="296.24" style="fill: #4b0082"/>
     <use href="#mf97814a1a1" x="362.28" y="301.68" style="fill: #4b0082"/>
     <use href="#mf97814a1a1" x="363.64" y="307.92" style="fill: #4b0082"/>
     <use href="#mf97814a1a1" x="364.92" y="299.8" style="fill: #4b0082"/>
     <use href="#mf97814a1a1" x="366.24" y="312.28" style="fill: #4b0082"/>
     <use href="#mf97814a1a1" x="367.6" y="307.08" style="fill: #4b0082"/>
     <use href="#mf97814a1a1" x="368.8" y="298.96" style="fill: #4b0082"/>
     <use href="#mf97814a1a1" x="369.72" y="292.52" style="fill: #4b0082"/>
     <use href="#mf97814a1a1" x="371.04" y="294.6" style="fill: #4b0082"/>
     <use href="#mf97814a1a1" x="372.2" y="306.04" style="fill: #4b0082"/>
     <use href="#mf97814a1a1" x="373.44" y="306.44" style="fill: #4b0082"/>
     <use href="#mf97814a1a1" x="374.48" y="301.68" style="fill: #4b0082"/>
     <use href="#mf97814a1a1" x="375.76" y="294.36" style="fill: #4b0082"/>
     <use href="#mf97814a1a1" x="377.4" y="297.5" style="fill: #4b0082"/>
     <use href="#mf97814a1a1" x="378.64" y="295.4" style="fill: #4b0082"/>
     <use href="#mf97814a1a1" x="379.6" y="290.64" style="fill: #4b0082"/>
     <use href="#mf97814a1a1" x="380.96" y="291.68" style="fill: #4b0082"/>
     <use href="#mf97814a1a1" x="381.84" y="277.92" style="fill: #4b0082"/>
     <use href="#mf97814a1a1" x="383.44" y="277.92" style="fill: #4b0082"/>
     <use href="#mf97814a1a1" x="384.56" y="276.44" style="fill: #4b0082"/>
     <use href="#mf97814a1a1" x="385.6" y="270.92" style="fill: #4b0082"/>
     <use href="#mf97814a1a1" x="387.04" y="261.92" style="fill: #4b0082"/>
     <use href="#mf97814a1a1" x="388.2" y="265.6" style="fill: #4b0082"/>
     <use href="#mf97814a1a1" x="389.28" y="257.52" style="fill: #4b0082"/>
     <use href="#mf97814a1a1" x="390.6" y="255.56" style="fill: #4b0082"/>
     <use href="#mf97814a1a1" x="391.68" y="251.16" style="fill: #4b0082"/>
     <use href="#mf97814a1a1" x="393.04" y="241.2" style="fill: #4b0082"/>
     <use href="#mf97814a1a1" x="394.4" y="237.4" style="fill: #4b0082"/>
     <use href="#mf97814a1a1" x="395.32" y="228.32" style="fill: #4b0082"/>
     <use href="#mf97814a1a1" x="396.48" y="232.52" style="fill: #4b0082"/>
     <use href="#mf97814a1a1" x="397.64" y="228.12" style="fill: #4b0082"/>
     <use href="#mf97814a1a1" x="399.08" y="242.24" style="fill: #4b0082"/>
     <use href="#mf97814a1a1" x="400.24" y="218.8" style="fill: #4b0082"/>
     <use href="#mf97814a1a1" x="401.68" y="211.28" style="fill: #4b0082"/>
     <use href="#mf97814a1a1" x="402.48" y="230.44" style="fill: #4b0082"/>
     <use href="#mf97814a1a1" x="403.2" y="228.32" style="fill: #4b0082"/>
     <use href="#mf97814a1a1" x="404.12" y="239.64" style="fill: #4b0082"/>
     <use href="#mf97814a1a1" x="405.44" y="219.24" style="fill: #4b0082"/>
     <use href="#mf97814a1a1" x="406.32" y="216.2" style="fill: #4b0082"/>
     <use href="#mf97814a1a1" x="407.84" y="245.16" style="fill: #4b0082"/>
     <use href="#mf97814a1a1" x="408.96" y="262.4" style="fill: #4b0082"/>
     <use href="#mf97814a1a1" x="410.24" y="230" style="fill: #4b0082"/>
     <use href="#mf97814a1a1" x="411.52" y="236.48" style="fill: #4b0082"/>
     <use href="#mf97814a1a1" x="412.6" y="256.8" style="fill: #4b0082"/>
     <use href="#mf97814a1a1" x="413.6" y="274.04" style="fill: #4b0082"/>
     <use href="#mf97814a1a1" x="414.64" y="269.56" style="fill: #4b0082"/>
     <use href="#mf97814a1a1" x="416.24" y="260.4" style="fill: #4b0082"/>
     <use href="#mf97814a1a1" x="417.32" y="281.72" style="fill: #4b0082"/>
     <use href="#mf97814a1a1" x="418.92" y="302.04" style="fill: #4b0082"/>
     <use href="#mf97814a1a1" x="419.96" y="290.56" style="fill: #4b0082"/>
     <use href="#mf97814a1a1" x="421.24" y="289.28" style="fill: #4b0082"/>
     <use href="#mf97814a1a1" x="422.64" y="291.28" style="fill: #4b0082"/>
     <use href="#mf97814a1a1" x="423.68" y="303.32" style="fill: #4b0082"/>
     <use href="#mf97814a1a1" x="425.08" y="299.8" style="fill: #4b0082"/>
     <use href="#mf97814a1a1" x="426.16" y="299.6" style="fill: #4b0082"/>
     <use href="#mf97814a1a1" x="427.2" y="306.52" style="fill: #4b0082"/>
     <use href="#mf97814a1a1" x="428.72" y="306.28" style="fill: #4b0082"/>
     <use href="#mf97814a1a1" x="429.76" y="299.8" style="fill: #4b0082"/>
     <use href="#mf97814a1a1" x="430.84" y="304.08" style="fill: #4b0082"/>
     <use href="#mf97814a1a1" x="432.2" y="307.56" style="fill: #4b0082"/>
     <use href="#mf97814a1a1" x="433.28" y="311.84" style="fill: #4b0082"/>
     <use href="#mf97814a1a1" x="434.88" y="311.32" style="fill: #4b0082"/>
     <use href="#mf97814a1a1" x="435.96" y="302.48" style="fill: #4b0082"/>
     <use href="#mf97814a1a1" x="437" y="306.52" style="fill: #4b0082"/>
     <use href="#mf97814a1a1" x="438.6" y="307.56" style="fill: #4b0082"/>
     <use href="#mf97814a1a1" x="440.44" y="303.16" style="fill: #4b0082"/>
     <use href="#mf97814a1a1" x="441.92" y="303.92" style="fill: #4b0082"/>
     <use href="#mf97814a1a1" x="443.32" y="302.64" style="fill: #4b0082"/>
     <use href="#mf97814a1a1" x="444.64" y="303.76" style="fill: #4b0082"/>
     <use href="#mf97814a1a1" x="445.8" y="311.64" style="fill: #4b0082"/>
     <use href="#mf97814a1a1" x="446.72" y="302.4" style="fill: #4b0082"/>
     <use href="#mf97814a1a1" x="448.24" y="298.56" style="fill: #4b0082"/>
     <use href="#mf97814a1a1" x="449.4" y="308.96" style="fill: #4b0082"/>
     <use href="#mf97814a1a1" x="450.56" y="302.28" style="fill: #4b0082"/>
     <use href="#mf97814a1a1" x="451.68" y="306.32" style="fill: #4b0082"/>
     <use href="#mf97814a1a1" x="452.88" y="308.64" style="fill: #4b0082"/>
     <use href="#mf97814a1a1" x="454.12" y="305.16" style="fill: #4b0082"/>
     <use href="#mf97814a1a1" x="455.36" y="303.56" style="fill: #4b0082"/>
     <use href="#mf97814a1a1" x="456.56" y="309.24" style="fill: #4b0082"/>
     <use href="#mf97814a1a1" x="457.96" y="298.44" style="fill: #4b0082"/>
     <use href="#mf97814a1a1" x="459.2" y="302.84" style="fill: #4b0082"/>
     <use href="#mf97814a1a1" x="460.28" y="297.4" style="fill: #4b0082"/>
     <use href="#mf97814a1a1" x="461.68" y="298.24" style="fill: #4b0082"/>
     <use href="#mf97814a1a1" x="462.76" y="307.84" style="fill: #4b0082"/>
     <use href="#mf97814a1a1" x="464" y="297.28" style="fill: #4b0082"/>
     <use href="#mf97814a1a1" x="465.48" y="293.6" style="fill: #4b0082"/>
     <use href="#mf97814a1a1" x="466.48" y="299.16" style="fill: #4b0082"/>
     <use href="#mf97814a1a1" x="467.68" y="296" style="fill: #4b0082"/>
     <use href="#mf97814a1a1" x="468.92" y="307.48" style="fill: #4b0082"/>
     <use href="#mf97814a1a1" x="470.32" y="307.96" style="fill: #4b0082"/>
     <use href="#mf97814a1a1" x="471.48" y="298" style="fill: #4b0082"/>
     <use href="#mf97814a1a1" x="472.76" y="299.16" style="fill: #4b0082"/>
     <use href="#mf97814a1a1" x="474.04" y="288.72" style="fill: #4b0082"/>
     <use href="#mf97814a1a1" x="475.2" y="286.64" style="fill: #4b0082"/>
     <use href="#mf97814a1a1" x="476.56" y="283.76" style="fill: #4b0082"/>
     <use href="#mf97814a1a1" x="477.76" y="272.16" style="fill: #4b0082"/>
     <use href="#mf97814a1a1" x="478.96" y="273.52" style="fill: #4b0082"/>
     <use href="#mf97814a1a1" x="480.16" y="278.44" style="fill: #4b0082"/>
     <use href="#mf97814a1a1" x="481.24" y="275.4" style="fill: #4b0082"/>
     <use href="#mf97814a1a1" x="482.64" y="269.36" style="fill: #4b0082"/>
     <use href="#mf97814a1a1" x="483.56" y="283.08" style="fill: #4b0082"/>
     <use href="#mf97814a1a1" x="484.76" y="251.6" style="fill: #4b0082"/>
     <use href="#mf97814a1a1" x="486.08" y="283.08" style="fill: #4b0082"/>
     <use href="#mf97814a1a1" x="487.28" y="231.6" style="fill: #4b0082"/>
     <use href="#mf97814a1a1" x="488.68" y="289.56" style="fill: #4b0082"/>
     <use href="#mf97814a1a1" x="489.88" y="232.8" style="fill: #4b0082"/>
     <use href="#mf97814a1a1" x="491.08" y="295.12" style="fill: #4b0082"/>
     <use href="#mf97814a1a1" x="492.2" y="258.24" style="fill: #4b0082"/>
     <use href="#mf97814a1a1" x="493.56" y="299" style="fill: #4b0082"/>
     <use href="#mf97814a1a1" x="494.76" y="270.12" style="fill: #4b0082"/>
     <use href="#mf97814a1a1" x="495.88" y="295.48" style="fill: #4b0082"/>
     <use href="#mf97814a1a1" x="497.2" y="295.12" style="fill: #4b0082"/>
     <use href="#mf97814a1a1" x="498.84" y="297.6" style="fill: #4b0082"/>
     <use href="#mf97814a1a1" x="501" y="297.84" style="fill: #4b0082"/>
     <use href="#mf97814a1a1" x="502.08" y="299.6" style="fill: #4b0082"/>
     <use href="#mf97814a1a1" x="503.48" y="299.36" style="fill: #4b0082"/>
     <use href="#mf97814a1a1" x="504.64" y="300.08" style="fill: #4b0082"/>
     <use href="#mf97814a1a1" x="505.8" y="301.68" style="fill: #4b0082"/>
     <use href="#mf97814a1a1" x="506.96" y="300.52" style="fill: #4b0082"/>
     <use href="#mf97814a1a1" x="508.24" y="295.68" style="fill: #4b0082"/>
     <use href="#mf97814a1a1" x="509.24" y="298.44" style="fill: #4b0082"/>
     <use href="#mf97814a1a1" x="510.64" y="299.36" style="fill: #4b0082"/>
     <use href="#mf97814a1a1" x="512.04" y="299.16" style="fill: #4b0082"/>
     <use href="#mf97814a1a1" x="513.2" y="294.76" style="fill: #4b0082"/>
     <use href="#mf97814a1a1" x="514.12" y="302.64" style="fill: #4b0082"/>
     <use href="#mf97814a1a1" x="515.76" y="303.68" style="fill: #4b0082"/>
     <use href="#mf97814a1a1" x="516.76" y="297.52" style="fill: #4b0082"/>
     <use href="#mf97814a1a1" x="518.04" y="303.32" style="fill: #4b0082"/>
     <use href="#mf97814a1a1" x="519.36" y="296.84" style="fill: #4b0082"/>
     <use href="#mf97814a1a1" x="520.6" y="300.32" style="fill: #4b0082"/>
     <use href="#mf97814a1a1" x="522.12" y="299.16" style="fill: #4b0082"/>
     <use href="#mf97814a1a1" x="522.92" y="288.4" style="fill: #4b0082"/>
     <use href="#mf97814a1a1" x="524.08" y="293.6" style="fill: #4b0082"/>
     <use href="#mf97814a1a1" x="525.36" y="291.28" style="fill: #4b0082"/>
     <use href="#mf97814a1a1" x="526.64" y="300.52" style="fill: #4b0082"/>
     <use href="#mf97814a1a1" x="527.68" y="296.12" style="fill: #4b0082"/>
     <use href="#mf97814a1a1" x="529.16" y="296.36" style="fill: #4b0082"/>
     <use href="#mf97814a1a1" x="530.48" y="299.72" style="fill: #4b0082"/>
     <use href="#mf97814a1a1" x="531.56" y="280.08" style="fill: #4b0082"/>
     <use href="#mf97814a1a1" x="532.8" y="285.84" style="fill: #4b0082"/>
     <use href="#mf97814a1a1" x="533.92" y="290.68" style="fill: #4b0082"/>
     <use href="#mf97814a1a1" x="535.2" y="249.56" style="fill: #4b0082"/>
     <use href="#mf97814a1a1" x="536.28" y="281.64" style="fill: #4b0082"/>
     <use href="#mf97814a1a1" x="537.64" y="288.68" style="fill: #4b0082"/>
     <use href="#mf97814a1a1" x="538.88" y="276" style="fill: #4b0082"/>
     <use href="#mf97814a1a1" x="540.36" y="280.28" style="fill: #4b0082"/>
     <use href="#mf97814a1a1" x="541.32" y="300.68" style="fill: #4b0082"/>
     <use href="#mf97814a1a1" x="542.6" y="289.56" style="fill: #4b0082"/>
     <use href="#mf97814a1a1" x="543.56" y="295.12" style="fill: #4b0082"/>
     <use href="#mf97814a1a1" x="544.88" y="295.12" style="fill: #4b0082"/>
     <use href="#mf97814a1a1" x="546.16" y="293.64" style="fill: #4b0082"/>
     <use href="#mf97814a1a1" x="547.4" y="293.24" style="fill: #4b0082"/>
     <use href="#mf97814a1a1" x="548.76" y="293.24" style="fill: #4b0082"/>
     <use href="#mf97814a1a1" x="549.92" y="290.52" style="fill: #4b0082"/>
     <use href="#mf97814a1a1" x="551.48" y="292.28" style="fill: #4b0082"/>
     <use href="#mf97814a1a1" x="552.44" y="299.2" style="fill: #4b0082"/>
     <use href="#mf97814a1a1" x="553.76" y="294" style="fill: #4b0082"/>
     <use href="#mf97814a1a1" x="555.04" y="293.24" style="fill: #4b0082"/>
     <use href="#mf97814a1a1" x="556.36" y="298" style="fill: #4b0082"/>
     <use href="#mf97814a1a1" x="557.32" y="293.8" style="fill: #4b0082"/>
     <use href="#mf97814a1a1" x="558.56" y="297.32" style="fill: #4b0082"/>
     <use href="#mf97814a1a1" x="559.88" y="293.6" style="fill: #4b0082"/>
     <use href="#mf97814a1a1" x="561.28" y="294.84" style="fill: #4b0082"/>
     <use href="#mf97814a1a1" x="562.16" y="298.88" style="fill: #4b0082"/>
     <use href="#mf97814a1a1" x="563.56" y="299.52" style="fill: #4b0082"/>
     <use href="#mf97814a1a1" x="564.56" y="291.84" style="fill: #4b0082"/>
     <use href="#mf97814a1a1" x="565.88" y="290.52" style="fill: #4b0082"/>
     <use href="#mf97814a1a1" x="567.08" y="300.2" style="fill: #4b0082"/>
     <use href="#mf97814a1a1" x="568.4" y="307.44" style="fill: #4b0082"/>
     <use href="#mf97814a1a1" x="569.64" y="303.48" style="fill: #4b0082"/>
     <use href="#mf97814a1a1" x="570.72" y="291.4" style="fill: #4b0082"/>
     <use href="#mf97814a1a1" x="572.04" y="293.16" style="fill: #4b0082"/>
     <use href="#mf97814a1a1" x="573.24" y="288.24" style="fill: #4b0082"/>
     <use href="#mf97814a1a1" x="574.68" y="292.48" style="fill: #4b0082"/>
     <use href="#mf97814a1a1" x="575.56" y="294.92" style="fill: #4b0082"/>
     <use href="#mf97814a1a1" x="576.88" y="298.44" style="fill: #4b0082"/>
     <use href="#mf97814a1a1" x="578.2" y="294.68" style="fill: #4b0082"/>
     <use href="#mf97814a1a1" x="579.32" y="299.76" style="fill: #4b0082"/>
     <use href="#mf97814a1a1" x="580.56" y="293.16" style="fill: #4b0082"/>
     <use href="#mf97814a1a1" x="581.72" y="301.08" style="fill: #4b0082"/>
     <use href="#mf97814a1a1" x="583.28" y="299.76" style="fill: #4b0082"/>
     <use href="#mf97814a1a1" x="584.16" y="296.24" style="fill: #4b0082"/>
     <use href="#mf97814a1a1" x="585.56" y="293.8" style="fill: #4b0082"/>
     <use href="#mf97814a1a1" x="587" y="296" style="fill: #4b0082"/>
     <use href="#mf97814a1a1" x="589" y="294.48" style="fill: #4b0082"/>
     <use href="#mf97814a1a1" x="590.52" y="297.76" style="fill: #4b0082"/>
     <use href="#mf97814a1a1" x="592.08" y="295.8" style="fill: #4b0082"/>
    </g>
   </g>
   <g id="patch_51">
    <path d="M 348.52 315.24 
L 348.52 190.16 
" style="fill: none; stroke: #000000; stroke-width: 0.8; stroke-linejoin: miter; stroke-linecap: square"/>
   </g>
   <g id="patch_52">
    <path d="M 592.88 315.24 
L 592.88 190.16 
" style="fill: none; stroke: #000000; stroke-width: 0.8; stroke-linejoin: miter; stroke-linecap: square"/>
   </g>
   <g id="patch_53">
    <path d="M 348.52 315.24 
L 592.88 315.24 
" style="fill: none; stroke: #000000; stroke-width: 0.8; stroke-linejoin: miter; stroke-linecap: square"/>
   </g>
   <g id="patch_54">
    <path d="M 348.52 190.16 
L 592.88 190.16 
" style="fill: none; stroke: #000000; stroke-width: 0.8; stroke-linejoin: miter; stroke-linecap: square"/>
   </g>
  </g>
  <g id="patch_55">
   <path d="M 168.96 213.6 
L 188.28 213.6 
L 188.28 197.76 
L 168.96 197.76 
z
" style="fill: #4b0082; fill-opacity: 0.5"/>
  </g>
  <g id="patch_56">
   <path d="M 254.4 213.6 
L 273.76 213.6 
L 273.76 197.76 
L 254.4 197.76 
z
" style="fill: #4b0082; fill-opacity: 0.5"/>
  </g>
  <g id="patch_57">
   <path d="M 468.36 213.6 
L 487.56 213.6 
L 487.56 197.76 
L 468.36 197.76 
z
" style="fill: #4b0082; fill-opacity: 0.5"/>
  </g>
  <g id="patch_58">
   <path d="M 514.12 213.6 
L 539.48 213.6 
L 539.48 197.76 
L 514.12 197.76 
z
" style="fill: #4b0082; fill-opacity: 0.5"/>
  </g>
  <g id="patch_59">
   <path d="M 566.04 213.6 
L 585.24 213.6 
L 585.24 197.76 
L 566.04 197.76 
z
" style="fill: #4b0082; fill-opacity: 0.5"/>
  </g>
  <g id="line2d_82">
   <path d="M 37 78.76 
L 49 72.76 
" style="fill: none; stroke: #000000"/>
  </g>
  <g id="line2d_83">
   <path d="M 37 82.36 
L 49 76.36 
" style="fill: none; stroke: #000000"/>
  </g>
  <g id="line2d_84">
   <path d="M 281.36 78.76 
L 293.36 72.76 
" style="fill: none; stroke: #000000"/>
  </g>
  <g id="line2d_85">
   <path d="M 281.36 82.36 
L 293.36 76.36 
" style="fill: none; stroke: #000000"/>
  </g>
  <g id="line2d_86">
   <path d="M 215.24 22.56 
L 215.24 83.84 
" style="fill: none; stroke-dasharray: 1,1.65; stroke-dashoffset: 0; stroke: #000000; stroke-linecap: round"/>
  </g>
  <g id="line2d_87">
   <path d="M 149.6 41.32 
L 156.32 37.96 
" style="fill: none; stroke: #000000; stroke-width: 0.85"/>
  </g>
  <g id="line2d_88">
   <path d="M 149.6 45.08 
L 156.32 41.72 
" style="fill: none; stroke: #000000; stroke-width: 0.85"/>
  </g>
  <g id="line2d_89">
   <path d="M 149.6 63.4 
L 156.32 60.04 
" style="fill: none; stroke: #000000; stroke-width: 0.85"/>
  </g>
  <g id="line2d_90">
   <path d="M 149.6 67.2 
L 156.32 63.84 
" style="fill: none; stroke: #000000; stroke-width: 0.85"/>
  </g>
  <g id="line2d_91">
   <path d="M 274.2 41.32 
L 280.92 37.96 
" style="fill: none; stroke: #000000; stroke-width: 0.85"/>
  </g>
  <g id="line2d_92">
   <path d="M 274.2 45.08 
L 280.92 41.72 
" style="fill: none; stroke: #000000; stroke-width: 0.85"/>
  </g>
  <g id="line2d_93">
   <path d="M 274.2 63.4 
L 280.92 60.04 
" style="fill: none; stroke: #000000; stroke-width: 0.85"/>
  </g>
  <g id="line2d_94">
   <path d="M 274.2 67.2 
L 280.92 63.84 
" style="fill: none; stroke: #000000; stroke-width: 0.85"/>
  </g>
  <g id="line2d_95">
   <path d="M 159.96 213.6 
L 282.72 213.6 
" style="fill: none; stroke: #000000; stroke-width: 0.8; stroke-linecap: square"/>
  </g>
  <g id="line2d_96">
   <path d="M 190.84 206.08 
L 251.88 206.08 
" style="fill: none; stroke: #000000; stroke-width: 1.05"/>
  </g>
  <g id="line2d_97">
   <path d="M 194.68 204.08 
L 190.84 206.08 
L 194.68 208.08 
" style="fill: none; stroke: #000000; stroke-width: 1.05; stroke-linecap: round"/>
  </g>
  <g id="line2d_98">
   <path d="M 248.04 204.08 
L 251.88 206.08 
L 248.04 208.08 
" style="fill: none; stroke: #000000; stroke-width: 1.05; stroke-linecap: round"/>
  </g>
  <g id="line2d_99">
   <path d="M 465.72 213.6 
L 587.8 213.6 
" style="fill: none; stroke: #000000; stroke-width: 0.8; stroke-linecap: square"/>
  </g>
  <g id="line2d_100">
   <path d="M 490.12 206.08 
L 511.64 206.08 
" style="fill: none; stroke: #000000; stroke-width: 1.05"/>
  </g>
  <g id="line2d_101">
   <path d="M 493.96 204.08 
L 490.12 206.08 
L 493.96 208.08 
" style="fill: none; stroke: #000000; stroke-width: 1.05; stroke-linecap: round"/>
  </g>
  <g id="line2d_102">
   <path d="M 507.8 204.08 
L 511.64 206.08 
L 507.8 208.08 
" style="fill: none; stroke: #000000; stroke-width: 1.05; stroke-linecap: round"/>
  </g>
  <g id="line2d_103">
   <path d="M 542.2 206.08 
L 563.52 206.08 
" style="fill: none; stroke: #000000; stroke-width: 1.05"/>
  </g>
  <g id="line2d_104">
   <path d="M 546.04 204.08 
L 542.2 206.08 
L 546.04 208.08 
" style="fill: none; stroke: #000000; stroke-width: 1.05; stroke-linecap: round"/>
  </g>
  <g id="line2d_105">
   <path d="M 559.68 204.08 
L 563.52 206.08 
L 559.68 208.08 
" style="fill: none; stroke: #000000; stroke-width: 1.05; stroke-linecap: round"/>
  </g>
  <g id="text_65">
   <text style="font-size: 10.350px; font-family: 'Liberation Sans', sans-serif; text-anchor: middle" x="14.16" y="77.54" transform="rotate(-90 14.16 77.54)" textLength="115.026" lengthAdjust="spacingAndGlyphs">Fraction of occurrences</text>
  </g>
  <g id="text_66">
   <text style="font-size: 7.245px; font-family: 'Liberation Sans', sans-serif; text-anchor: middle" x="125.12" y="52.32" transform="rotate(-90 125.12 52.32)" textLength="24.998" lengthAdjust="spacingAndGlyphs">Fidelity</text>
  </g>
  <g id="text_67">
   <text style="font-size: 7.245px; font-family: 'Liberation Sans', sans-serif; text-anchor: start" x="240.12" y="45.16" transform="rotate(-0 240.12 45.16)" textLength="28.780" lengthAdjust="spacingAndGlyphs">Average</text>
  </g>
  <g id="text_68">
   
   <g transform="translate(170.9 208.88)">
    <text x="0.0999" y="-0.578125" style="font-style: italic; font-size: 10.350px; font-family: 'Liberation Sans', sans-serif" textLength="5.942" lengthAdjust="spacingAndGlyphs">π</text>
<text x="6.1400" y="-0.578125" style="font-size: 10.350px; font-family: 'Liberation Sans', sans-serif" textLength="3.130" lengthAdjust="spacingAndGlyphs">/</text>
<text x="9.0049" y="-0.578125" style="font-size: 10.350px; font-family: 'Liberation Sans', sans-serif" textLength="6.265" lengthAdjust="spacingAndGlyphs">2</text>
   </g>
  </g>
  <g id="text_69">
   
   <g transform="translate(256.38 208.88)">
    <text x="0.0999" y="-0.578125" style="font-style: italic; font-size: 10.350px; font-family: 'Liberation Sans', sans-serif" textLength="5.942" lengthAdjust="spacingAndGlyphs">π</text>
<text x="6.1400" y="-0.578125" style="font-size: 10.350px; font-family: 'Liberation Sans', sans-serif" textLength="3.130" lengthAdjust="spacingAndGlyphs">/</text>
<text x="9.0049" y="-0.578125" style="font-size: 10.350px; font-family: 'Liberation Sans', sans-serif" textLength="6.265" lengthAdjust="spacingAndGlyphs">2</text>
   </g>
  </g>
  <g id="text_70">
   
   <g transform="translate(218.07 201.88)">
    <text x="0.9037" y="-0.53125" style="font-style: italic; font-size: 10.350px; font-family: 'Liberation Sans', sans-serif" textLength="4.213" lengthAdjust="spacingAndGlyphs">τ</text>
   </g>
  </g>
  <g id="text_71">
   
   <g transform="translate(470.26 208.88)">
    <text x="0.0999" y="-0.578125" style="font-style: italic; font-size: 10.350px; font-family: 'Liberation Sans', sans-serif" textLength="5.942" lengthAdjust="spacingAndGlyphs">π</text>
<text x="6.1400" y="-0.578125" style="font-size: 10.350px; font-family: 'Liberation Sans', sans-serif" textLength="3.130" lengthAdjust="spacingAndGlyphs">/</text>
<text x="9.0049" y="-0.578125" style="font-size: 10.350px; font-family: 'Liberation Sans', sans-serif" textLength="6.265" lengthAdjust="spacingAndGlyphs">2</text>
   </g>
  </g>
  <g id="text_72">
   
   <g transform="translate(567.94 208.88)">
    <text x="0.0999" y="-0.578125" style="font-style: italic; font-size: 10.350px; font-family: 'Liberation Sans', sans-serif" textLength="5.942" lengthAdjust="spacingAndGlyphs">π</text>
<text x="6.1400" y="-0.578125" style="font-size: 10.350px; font-family: 'Liberation Sans', sans-serif" textLength="3.130" lengthAdjust="spacingAndGlyphs">/</text>
<text x="9.0049" y="-0.578125" style="font-size: 10.350px; font-family: 'Liberation Sans', sans-serif" textLength="6.265" lengthAdjust="spacingAndGlyphs">2</text>
   </g>
  </g>
  <g id="text_73">
   
   <g transform="translate(523.75 208.88)">
    <text x="0.0391" y="-0.53125" style="font-style: italic; font-size: 10.350px; font-family: 'Liberation Sans', sans-serif" textLength="5.942" lengthAdjust="spacingAndGlyphs">π</text>
   </g>
  </g>
  <g id="text_74">
   
   <g transform="translate(492.98 201.88)">
    <text x="0.9702" y="-0.578125" style="font-style: italic; font-size: 10.350px; font-family: 'Liberation Sans', sans-serif" textLength="4.213" lengthAdjust="spacingAndGlyphs">τ</text>
<text x="6.1457" y="-0.578125" style="font-size: 10.350px; font-family: 'Liberation Sans', sans-serif" textLength="3.130" lengthAdjust="spacingAndGlyphs">/</text>
<text x="9.0106" y="-0.578125" style="font-size: 10.350px; font-family: 'Liberation Sans', sans-serif" textLength="6.265" lengthAdjust="spacingAndGlyphs">2</text>
   </g>
  </g>
  <g id="text_75">
   
   <g transform="translate(544.82 201.88)">
    <text x="0.9702" y="-0.578125" style="font-style: italic; font-size: 10.350px; font-family: 'Liberation Sans', sans-serif" textLength="4.213" lengthAdjust="spacingAndGlyphs">τ</text>
<text x="6.1457" y="-0.578125" style="font-size: 10.350px; font-family: 'Liberation Sans', sans-serif" textLength="3.130" lengthAdjust="spacingAndGlyphs">/</text>
<text x="9.0106" y="-0.578125" style="font-size: 10.350px; font-family: 'Liberation Sans', sans-serif" textLength="6.265" lengthAdjust="spacingAndGlyphs">2</text>
   </g>
  </g>
  <g id="text_76">
   <text style="font-size: 12.420px; font-family: 'Liberation Sans', sans-serif; text-anchor: start; stroke: none" x="-1.52" y="9.48" transform="rotate(-0 -1.52 9.48)" textLength="17.553" lengthAdjust="spacingAndGlyphs">(a)</text>
  </g>
  <g id="text_77">
   <text style="font-size: 12.420px; font-family: 'Liberation Sans', sans-serif; text-anchor: start; stroke: none" x="304.44" y="9" transform="rotate(-0 304.44 9)" textLength="17.829" lengthAdjust="spacingAndGlyphs">(b)</text>
  </g>
  <g id="text_78">
   <text style="font-size: 12.420px; font-family: 'Liberation Sans', sans-serif; text-anchor: start; stroke: none" x="-1.56" y="184.4" transform="rotate(-0 -1.56 184.4)" textLength="16.759" lengthAdjust="spacingAndGlyphs">(c)</text>
  </g>
  <g id="text_79">
   <text style="font-size: 12.420px; font-family: 'Liberation Sans', sans-serif; text-anchor: start; stroke: none" x="304.44" y="184.24" transform="rotate(-0 304.44 184.24)" textLength="17.829" lengthAdjust="spacingAndGlyphs">(d)</text>
  </g>
 </g>
 <defs>
  <clipPath id="pc5ae53159c">
   <rect x="43" y="15" width="244.36" height="60.76"/>
  </clipPath>
  <clipPath id="ped89a6a85b">
   <rect x="43" y="79.36" width="244.36" height="60.72"/>
  </clipPath>
  <clipPath id="p95d39f3d8a">
   <rect x="152.96" y="21.2" width="124.6" height="18.44"/>
  </clipPath>
  <clipPath id="p97b28c5c1a">
   <rect x="152.96" y="43.4" width="124.6" height="18.32"/>
  </clipPath>
  <clipPath id="pf60e66ae4b">
   <rect x="152.96" y="65.52" width="124.6" height="18.32"/>
  </clipPath>
  <clipPath id="p07e15613e6">
   <rect x="348.6" y="15" width="244.28" height="125.08"/>
  </clipPath>
  <clipPath id="pab57ca916b">
   <rect x="43" y="190.12" width="244.4" height="125.2"/>
  </clipPath>
  <clipPath id="p075227292a">
   <rect x="348.52" y="190.16" width="244.36" height="125.08"/>
  </clipPath>
 </defs>
</svg>

</body></html>
